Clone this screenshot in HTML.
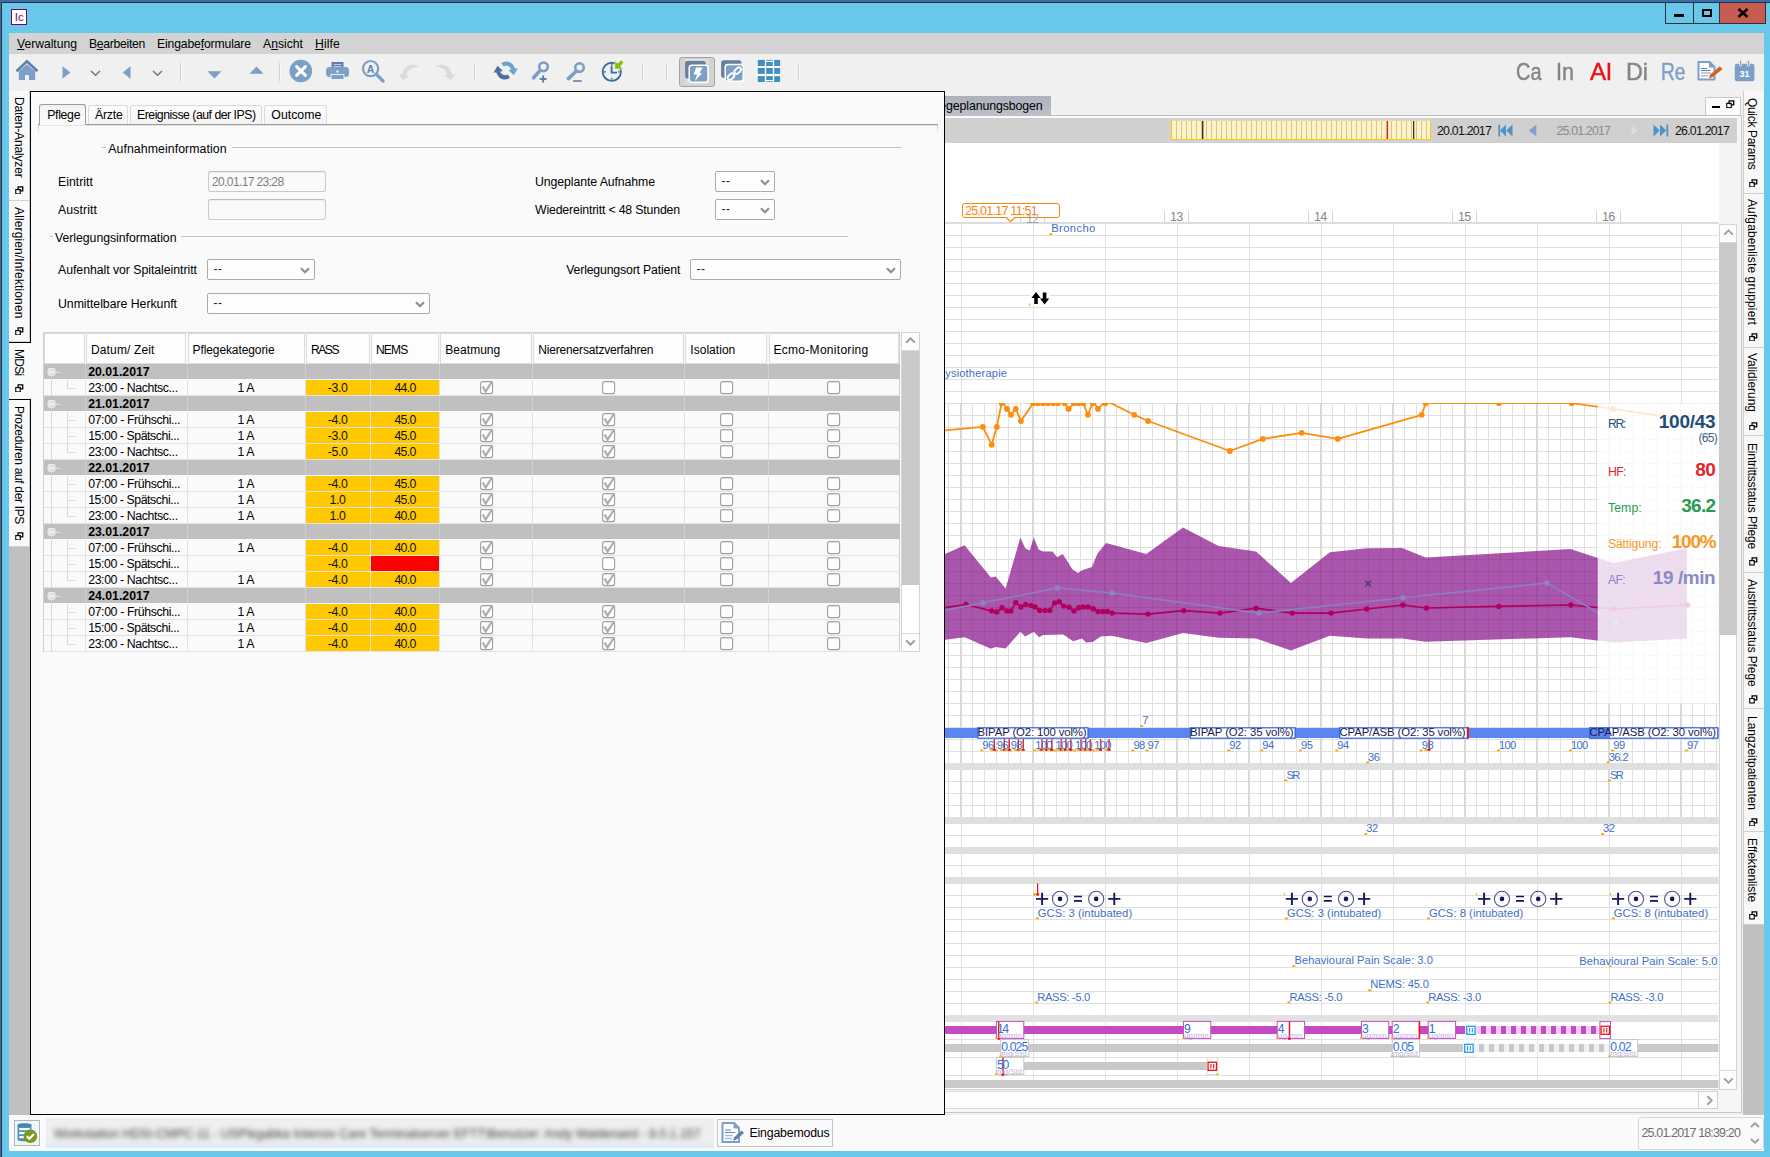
<!DOCTYPE html>
<html lang="de"><head><meta charset="utf-8"><title>Ic</title>
<style>
html,body{margin:0;padding:0}
body{width:1770px;height:1157px;position:relative;overflow:hidden;background:#69C8E9;font-family:"Liberation Sans",sans-serif;font-size:12px;color:#000}
.a{position:absolute;display:block}
.t{position:absolute;white-space:nowrap;height:16px}
</style></head>
<body>
<div class="a" style="left:0px;top:0px;width:1770px;height:2px;background:#3B6EA8;"></div>
<div class="a" style="left:0px;top:0px;width:1px;height:1157px;background:#3B6EA8;"></div>
<div class="a" style="left:1px;top:2px;width:1769px;height:1px;background:#2E3238;"></div>
<div class="a" style="left:1px;top:2px;width:1px;height:1155px;background:#2E3238;"></div>
<div class="a" style="left:11px;top:9px;width:16px;height:16px;background:#fff;border:1.5px solid #7A0064;box-sizing:border-box;"></div>
<div class="t" style="left:14.70px;top:9.00px;font-size:11.5px;color:#7A0064;line-height:16px;letter-spacing:0.028px;">Ic</div>
<div class="a" style="left:1665px;top:3px;width:101px;height:21px;border:1px solid #2E3238;border-top:none;box-sizing:border-box;"></div>
<div class="a" style="left:1693px;top:3px;width:1px;height:20px;background:#2E3238;"></div>
<div class="a" style="left:1719px;top:3px;width:1px;height:20px;background:#2E3238;"></div>
<div class="a" style="left:1720px;top:3px;width:45px;height:20px;background:#C75C52;"></div>
<div class="a" style="left:1674px;top:14px;width:10px;height:3px;background:#000;"></div>
<div class="a" style="left:1702px;top:9px;width:10px;height:8px;border:2px solid #000;box-sizing:border-box;"></div>
<svg class="a" style="left:1737px;top:8px;" width="12" height="10" viewBox="0 0 12 10"><path d="M1.5 1 L10.5 9 M10.5 1 L1.5 9" stroke="#000" stroke-width="2.6" fill="none"/></svg>
<div class="a" style="left:9px;top:33px;width:1755px;height:21px;background:#D3D3D3;"></div>
<div class="t" style="left:17px;top:35.5px;font-size:12.2px;letter-spacing:-0.037px;line-height:16px"><span style="text-decoration:underline">V</span>erwaltung</div>
<div class="t" style="left:89px;top:35.5px;font-size:12.2px;letter-spacing:-0.301px;line-height:16px">B<span style="text-decoration:underline">e</span>arbeiten</div>
<div class="t" style="left:157px;top:35.5px;font-size:12.2px;letter-spacing:-0.144px;line-height:16px">Eingabe<span style="text-decoration:underline">f</span>ormulare</div>
<div class="t" style="left:263px;top:35.5px;font-size:12.2px;letter-spacing:-0.001px;line-height:16px">A<span style="text-decoration:underline">n</span>sicht</div>
<div class="t" style="left:315px;top:35.5px;font-size:12.2px;letter-spacing:0.119px;line-height:16px"><span style="text-decoration:underline">H</span>ilfe</div>
<div class="a" style="left:9px;top:54px;width:1755px;height:37px;background:#F0F0F0;"></div>
<svg class="a" style="left:14px;top:58px;" width="26" height="24" viewBox="0 0 26 24"><path d="M4.8 13.2 L13 6.2 L21.2 13.2 L21.2 22 L15 22 L15 17 L11 17 L11 22 L4.8 22 Z" fill="#7B9FC6"/><path d="M2.5 13.2 L13 3.2 L23.5 13.2" stroke="#5F7FAA" stroke-width="2.6" fill="none" stroke-linejoin="miter"/></svg>
<svg class="a" style="left:62px;top:66px;" width="9" height="13" viewBox="0 0 9 13"><path d="M0.5 0.3 L8.3 6.5 L0.5 12.7 Z" fill="#7B9FC6"/></svg>
<svg class="a" style="left:122px;top:66px;" width="9" height="13" viewBox="0 0 9 13"><path d="M8.5 0.3 L0.7 6.5 L8.5 12.7 Z" fill="#7B9FC6"/></svg>
<svg class="a" style="left:90px;top:70px;" width="11" height="7" viewBox="0 0 11 7"><path d="M1 1 L5.5 5.2 L10 1" stroke="#777" stroke-width="1.5" fill="none"/></svg>
<svg class="a" style="left:152px;top:70px;" width="11" height="7" viewBox="0 0 11 7"><path d="M1 1 L5.5 5.2 L10 1" stroke="#777" stroke-width="1.5" fill="none"/></svg>
<div class="a" style="left:180px;top:60px;width:1px;height:24px;background:linear-gradient(#F0F0F0,#CDCDCD 25%,#CDCDCD 75%,#F0F0F0);"></div>
<div class="a" style="left:181px;top:60px;width:1px;height:24px;background:linear-gradient(#F0F0F0,#FAFAFA 25%,#FAFAFA 75%,#F0F0F0);"></div>
<svg class="a" style="left:207px;top:71px;" width="15" height="8" viewBox="0 0 15 8"><path d="M0.5 0.3 L14.5 0.3 L7.5 7.5 Z" fill="#7B9FC6"/></svg>
<svg class="a" style="left:249px;top:65.5px;" width="15" height="8" viewBox="0 0 15 8"><path d="M0.5 7.7 L14.5 7.7 L7.5 0.5 Z" fill="#7B9FC6"/></svg>
<div class="a" style="left:279px;top:60px;width:1px;height:24px;background:linear-gradient(#F0F0F0,#CDCDCD 25%,#CDCDCD 75%,#F0F0F0);"></div>
<div class="a" style="left:280px;top:60px;width:1px;height:24px;background:linear-gradient(#F0F0F0,#FAFAFA 25%,#FAFAFA 75%,#F0F0F0);"></div>
<svg class="a" style="left:289px;top:59px;" width="24" height="24" viewBox="0 0 24 24"><circle cx="11.8" cy="12" r="11.3" fill="#7B9FC6"/><path d="M7.6 7.6 L16.4 16.4 M16.4 7.6 L7.6 16.4" stroke="#fff" stroke-width="3" stroke-linecap="round"/></svg>
<svg class="a" style="left:325px;top:61px;" width="25" height="20" viewBox="0 0 25 20"><rect x="6.5" y="1" width="12" height="7" fill="#5F7FAA"/><rect x="8.5" y="3" width="8" height="1" fill="#B9CCE0"/><rect x="8.5" y="5" width="8" height="1" fill="#B9CCE0"/><rect x="1" y="6" width="23" height="10" rx="3.5" fill="#7B9FC6"/><rect x="11.5" y="9.5" width="2" height="2" fill="#fff"/><rect x="6" y="13.5" width="13" height="5" fill="#7B9FC6" stroke="#F0F0F0" stroke-width="1"/></svg>
<svg class="a" style="left:361px;top:59px;" width="24" height="24" viewBox="0 0 24 24"><circle cx="9.6" cy="9.6" r="7.6" fill="none" stroke="#7B9FC6" stroke-width="2.2"/><path d="M15.2 15.2 L22 22" stroke="#7B9FC6" stroke-width="3.2" stroke-linecap="round"/><text x="9.6" y="13.6" font-size="10.5" font-weight="bold" text-anchor="middle" fill="#5F7FAA" font-family="Liberation Sans, sans-serif">A</text></svg>
<svg class="a" style="left:397px;top:62px;" width="24" height="20" viewBox="0 0 24 20"><path d="M22.3 4.6 C16 0.6 7 2.4 5 12.6 L1.4 12.2 L6.2 17.9 L12.8 13.4 L9.6 13 C10.6 8 15 4.8 22.3 4.6 Z" fill="#DBDBDB"/></svg>
<svg class="a" style="left:433px;top:62px;" width="24" height="20" viewBox="0 0 24 20"><g transform="translate(24 0) scale(-1 1)"><path d="M22.3 4.6 C16 0.6 7 2.4 5 12.6 L1.4 12.2 L6.2 17.9 L12.8 13.4 L9.6 13 C10.6 8 15 4.8 22.3 4.6 Z" fill="#DBDBDB"/></g></svg>
<div class="a" style="left:474px;top:60px;width:1px;height:24px;background:linear-gradient(#F0F0F0,#CDCDCD 25%,#CDCDCD 75%,#F0F0F0);"></div>
<div class="a" style="left:475px;top:60px;width:1px;height:24px;background:linear-gradient(#F0F0F0,#FAFAFA 25%,#FAFAFA 75%,#F0F0F0);"></div>
<svg class="a" style="left:493px;top:60px;" width="26" height="22" viewBox="0 0 26 22"><path d="M8.4 3.2 C12 0.4 19.5 0.6 22 8.6 L24.8 8.4 L20.8 15.2 L15.4 10 L18.2 9.6 C17 6 13.5 5 10.6 6.4 Z" fill="#6FA3CF"/><path d="M17 17.8 C13.4 20.6 5.9 20.4 3.4 12.4 L0.6 12.6 L4.6 5.8 L10 11 L7.2 11.4 C8.4 15 11.9 16 14.8 14.6 Z" fill="#4E6F9F"/></svg>
<svg class="a" style="left:530.5px;top:60px;" width="20" height="24" viewBox="0 0 20 24"><circle cx="12.5" cy="6.8" r="4.3" fill="none" stroke="#7B9FC6" stroke-width="2.6"/><path d="M9.2 10.4 L2.6 17.8" stroke="#7B9FC6" stroke-width="3.6" stroke-linecap="round"/><path d="M8.7 19 L15.5 19 M12.1 15.6 L12.1 22.4" stroke="#5F7FAA" stroke-width="2"/></svg>
<svg class="a" style="left:566px;top:60px;" width="20" height="24" viewBox="0 0 20 24"><circle cx="13.5" cy="7.6" r="4.3" fill="none" stroke="#7B9FC6" stroke-width="2.6"/><path d="M10.2 11.2 L2.4 18.6" stroke="#7B9FC6" stroke-width="3.6" stroke-linecap="round"/><path d="M7 21 L15.6 21" stroke="#7189B3" stroke-width="1.8"/></svg>
<svg class="a" style="left:600px;top:58px;" width="26" height="26" viewBox="0 0 26 26"><circle cx="11.8" cy="13.8" r="9.1" fill="none" stroke="#34709F" stroke-width="1.9"/><path d="M11.6 8.2 L11.6 14.6 L17 14.6" fill="none" stroke="#34709F" stroke-width="1.9"/><g fill="#34709F"><circle cx="11.8" cy="6.9" r=".9"/><circle cx="11.8" cy="20.7" r=".9"/><circle cx="4.9" cy="13.8" r=".9"/><circle cx="18.7" cy="13.8" r=".9"/></g><path d="M14.8 2.6 L14.8 11 L23.2 11 L20.4 8.2 L23.8 4.6 L21.2 2 L17.6 5.4 Z" fill="#86BE0A" stroke="#F0F0F0" stroke-width="0.6"/></svg>
<div class="a" style="left:642px;top:60px;width:1px;height:24px;background:linear-gradient(#F0F0F0,#CDCDCD 25%,#CDCDCD 75%,#F0F0F0);"></div>
<div class="a" style="left:643px;top:60px;width:1px;height:24px;background:linear-gradient(#F0F0F0,#FAFAFA 25%,#FAFAFA 75%,#F0F0F0);"></div>
<div class="a" style="left:666px;top:60px;width:1px;height:24px;background:linear-gradient(#F0F0F0,#CDCDCD 25%,#CDCDCD 75%,#F0F0F0);"></div>
<div class="a" style="left:667px;top:60px;width:1px;height:24px;background:linear-gradient(#F0F0F0,#FAFAFA 25%,#FAFAFA 75%,#F0F0F0);"></div>
<div class="a" style="left:679px;top:57px;width:36px;height:30px;background:#D3D3D3;border:1.5px solid #A3A3A3;border-radius:3px;box-sizing:border-box;"></div>
<div class="a" style="left:685px;top:59px;width:24px;height:24.5px;background:#DDDDDD;"></div>
<svg class="a" style="left:684px;top:60px;" width="26" height="24" viewBox="0 0 26 24"><rect x="1.1" y="0.9" width="20.6" height="17.8" rx="2.4" fill="#687E9F"/><rect x="5.2" y="5.2" width="18.8" height="17" rx="2.6" fill="#7B9FC6" stroke="#fff" stroke-width="1.5"/><path d="M12 7.5 L18.7 7.5 L15.5 13 L18.1 13 L11 20.9 L13 14.6 L9.6 14.6 Z" fill="#fff"/></svg>
<svg class="a" style="left:720px;top:60px;" width="26" height="24" viewBox="0 0 26 24"><rect x="1.1" y="0.2" width="20.2" height="17.8" rx="2.4" fill="#687E9F"/><rect x="5.2" y="4.4" width="18" height="16.8" rx="2.6" fill="#7B9FC6" stroke="#fff" stroke-width="1.5"/><g fill="none" stroke="#fff" stroke-width="1.8"><rect x="-3.7" y="-2.2" width="7.4" height="4.4" rx="2.2" transform="translate(11 16.6) rotate(-42)"/><rect x="-3.7" y="-2.2" width="7.4" height="4.4" rx="2.2" transform="translate(17.7 10.6) rotate(-42)"/></g></svg>
<svg class="a" style="left:757px;top:59px;" width="24" height="24" viewBox="0 0 24 24"><rect x="0.8" y="0.9" width="22.3" height="22.1" fill="#3F8FC0"/><rect x="0" y="7" width="24" height="2" fill="#fff"/><rect x="0" y="14.9" width="24" height="2.2" fill="#fff"/><rect x="7.9" y="0" width="1.2" height="24" fill="#fff"/><rect x="15.9" y="0" width="1.2" height="24" fill="#fff"/><rect x="8.5" y="2.4" width="8" height="19.2" fill="none" stroke="#fff" stroke-width="1.2"/></svg>
<div class="a" style="left:798px;top:60px;width:1px;height:24px;background:linear-gradient(#F0F0F0,#CDCDCD 25%,#CDCDCD 75%,#F0F0F0);"></div>
<div class="a" style="left:799px;top:60px;width:1px;height:24px;background:linear-gradient(#F0F0F0,#FAFAFA 25%,#FAFAFA 75%,#F0F0F0);"></div>
<div class="t" style="left:1515.50px;top:57.50px;font-size:24.5px;color:#858585;line-height:28px;-webkit-text-stroke:0.45px #858585;transform-origin:0 50%;transform:scaleX(0.8142);">Ca</div>
<div class="t" style="left:1556.00px;top:57.50px;font-size:24.5px;color:#858585;line-height:28px;-webkit-text-stroke:0.45px #858585;transform-origin:0 50%;transform:scaleX(0.8809);">In</div>
<div class="t" style="left:1589.50px;top:57.50px;font-size:24.5px;color:#EE1111;line-height:28px;-webkit-text-stroke:0.45px #EE1111;transform-origin:0 50%;transform:scaleX(0.9869);">Al</div>
<div class="t" style="left:1625.50px;top:57.50px;font-size:24.5px;color:#858585;line-height:28px;-webkit-text-stroke:0.45px #858585;transform-origin:0 50%;transform:scaleX(0.9509);">Di</div>
<div class="t" style="left:1661.00px;top:57.50px;font-size:24.5px;color:#7B9FC6;line-height:28px;-webkit-text-stroke:0.45px #7B9FC6;transform-origin:0 50%;transform:scaleX(0.7823);">Re</div>
<svg class="a" style="left:1696px;top:60px;" width="28" height="22" viewBox="0 0 28 22"><path d="M2.5 2 L13.5 2 L18.5 7 L18.5 19.5 L2.5 19.5 Z" fill="#fff" stroke="#7B9FC6" stroke-width="2" stroke-linejoin="round"/><path d="M13 2 L13 7.5 L18.5 7.5" fill="#7B9FC6"/><g stroke="#5F7FAA" stroke-width="1"><path d="M5 8.5 L11 8.5 M5 10.5 L14.5 10.5"/></g><g stroke="#A9BCD2" stroke-width="1.6"><path d="M5 13 L14.5 13 M5 15.8 L12.5 15.8"/></g><path d="M23.8 6.2 L26.6 9 L16.6 17.2 L12.8 18.4 L14.2 14.6 Z" fill="#D2622D"/></svg>
<svg class="a" style="left:1734px;top:59.5px;" width="22" height="22" viewBox="0 0 22 22"><rect x="0.8" y="3.8" width="19.6" height="17.4" rx="2" fill="#7B9FC6"/><rect x="5.6" y="0.5" width="2" height="5.6" rx="1" fill="#7B9FC6" stroke="#F0F0F0" stroke-width=".8"/><rect x="13.4" y="0.5" width="2" height="5.6" rx="1" fill="#7B9FC6" stroke="#F0F0F0" stroke-width=".8"/><text x="10.6" y="16.8" font-size="9" font-weight="bold" text-anchor="middle" fill="#fff" font-family="Liberation Sans, sans-serif">31</text></svg>
<div class="a" style="left:9px;top:91px;width:1755px;height:1024px;background:#F0F0F0;"></div>
<div class="a" style="left:9px;top:91px;width:21px;height:1024px;background:#C0C0C0;"></div>
<div class="a" style="left:1743px;top:91px;width:21px;height:1024px;background:#C0C0C0;"></div>
<div class="a" style="left:9px;top:91px;width:21px;height:110px;background:#F9F9F9;border-bottom:1px solid #CFCFCF;box-sizing:border-box;border-right:1px solid #CFCFCF;"></div>
<div class="t" style="left:26.70px;top:97.20px;font-size:12px;color:#000;line-height:16px;transform-origin:0 0;transform:rotate(90deg);letter-spacing:-0.158px;">Daten-Analyzer</div>
<svg class="a" style="left:15.2px;top:185.5px" width="8.6" height="8.8" viewBox="0 0 10 10"><path d="M3.6 1 L9 1 L9 5.6 L3.6 5.6 Z M1 4 L6 4 L6 9 L1 9 Z" fill="none" stroke="#000" stroke-width="1.5"/><rect x="1.75" y="4.75" width="3.5" height="3.5" fill="#fff"/></svg>
<div class="a" style="left:9px;top:201px;width:21px;height:141px;background:#F9F9F9;border-bottom:1px solid #CFCFCF;box-sizing:border-box;border-right:1px solid #CFCFCF;"></div>
<div class="t" style="left:26.70px;top:207.00px;font-size:12px;color:#000;line-height:16px;transform-origin:0 0;transform:rotate(90deg);letter-spacing:0.131px;">Allergien/Infektionen</div>
<svg class="a" style="left:15.2px;top:326.5px" width="8.6" height="8.8" viewBox="0 0 10 10"><path d="M3.6 1 L9 1 L9 5.6 L3.6 5.6 Z M1 4 L6 4 L6 9 L1 9 Z" fill="none" stroke="#000" stroke-width="1.5"/><rect x="1.75" y="4.75" width="3.5" height="3.5" fill="#fff"/></svg>
<div class="a" style="left:9px;top:342px;width:21px;height:57px;background:#FAFAFA;border-bottom:1px solid #CFCFCF;box-sizing:border-box;border-top:1px solid #CFCFCF;"></div>
<div class="t" style="left:26.70px;top:349.00px;font-size:12px;color:#000;line-height:16px;transform-origin:0 0;transform:rotate(90deg);letter-spacing:-0.708px;">MDSi</div>
<svg class="a" style="left:15.2px;top:383.5px" width="8.6" height="8.8" viewBox="0 0 10 10"><path d="M3.6 1 L9 1 L9 5.6 L3.6 5.6 Z M1 4 L6 4 L6 9 L1 9 Z" fill="none" stroke="#000" stroke-width="1.5"/><rect x="1.75" y="4.75" width="3.5" height="3.5" fill="#fff"/></svg>
<div class="a" style="left:9px;top:399px;width:21px;height:148px;background:#F9F9F9;border-bottom:1px solid #CFCFCF;box-sizing:border-box;border-right:1px solid #CFCFCF;"></div>
<div class="t" style="left:26.70px;top:406.00px;font-size:12px;color:#000;line-height:16px;transform-origin:0 0;transform:rotate(90deg);letter-spacing:-0.337px;">Prozeduren auf der IPS</div>
<svg class="a" style="left:15.2px;top:531.5px" width="8.6" height="8.8" viewBox="0 0 10 10"><path d="M3.6 1 L9 1 L9 5.6 L3.6 5.6 Z M1 4 L6 4 L6 9 L1 9 Z" fill="none" stroke="#000" stroke-width="1.5"/><rect x="1.75" y="4.75" width="3.5" height="3.5" fill="#fff"/></svg>
<div class="a" style="left:1743px;top:91px;width:21px;height:102.5px;background:#F8F8F8;border-bottom:1px solid #CFCFCF;box-sizing:border-box;border-left:1px solid #CFCFCF;"></div>
<div class="t" style="left:1760.40px;top:98.00px;font-size:12px;color:#000;line-height:16px;transform-origin:0 0;transform:rotate(90deg);letter-spacing:-0.321px;">Quick Params</div>
<svg class="a" style="left:1749px;top:178.5px" width="8.6" height="8.8" viewBox="0 0 10 10"><path d="M3.6 1 L9 1 L9 5.6 L3.6 5.6 Z M1 4 L6 4 L6 9 L1 9 Z" fill="none" stroke="#000" stroke-width="1.5"/><rect x="1.75" y="4.75" width="3.5" height="3.5" fill="#fff"/></svg>
<div class="a" style="left:1743px;top:193.5px;width:21px;height:154px;background:#F8F8F8;border-bottom:1px solid #CFCFCF;box-sizing:border-box;border-left:1px solid #CFCFCF;"></div>
<div class="t" style="left:1760.40px;top:198.50px;font-size:12px;color:#000;line-height:16px;transform-origin:0 0;transform:rotate(90deg);letter-spacing:0.112px;">Aufgabenliste gruppiert</div>
<svg class="a" style="left:1749px;top:332.5px" width="8.6" height="8.8" viewBox="0 0 10 10"><path d="M3.6 1 L9 1 L9 5.6 L3.6 5.6 Z M1 4 L6 4 L6 9 L1 9 Z" fill="none" stroke="#000" stroke-width="1.5"/><rect x="1.75" y="4.75" width="3.5" height="3.5" fill="#fff"/></svg>
<div class="a" style="left:1743px;top:347.5px;width:21px;height:88.5px;background:#F8F8F8;border-bottom:1px solid #CFCFCF;box-sizing:border-box;border-left:1px solid #CFCFCF;"></div>
<div class="t" style="left:1760.40px;top:352.50px;font-size:12px;color:#000;line-height:16px;transform-origin:0 0;transform:rotate(90deg);letter-spacing:-0.014px;">Validierung</div>
<svg class="a" style="left:1749px;top:421.5px" width="8.6" height="8.8" viewBox="0 0 10 10"><path d="M3.6 1 L9 1 L9 5.6 L3.6 5.6 Z M1 4 L6 4 L6 9 L1 9 Z" fill="none" stroke="#000" stroke-width="1.5"/><rect x="1.75" y="4.75" width="3.5" height="3.5" fill="#fff"/></svg>
<div class="a" style="left:1743px;top:436px;width:21px;height:136.5px;background:#F8F8F8;border-bottom:1px solid #CFCFCF;box-sizing:border-box;border-left:1px solid #CFCFCF;"></div>
<div class="t" style="left:1760.40px;top:442.50px;font-size:12px;color:#000;line-height:16px;transform-origin:0 0;transform:rotate(90deg);letter-spacing:-0.154px;">Eintrittsstatus Pflege</div>
<svg class="a" style="left:1749px;top:557px" width="8.6" height="8.8" viewBox="0 0 10 10"><path d="M3.6 1 L9 1 L9 5.6 L3.6 5.6 Z M1 4 L6 4 L6 9 L1 9 Z" fill="none" stroke="#000" stroke-width="1.5"/><rect x="1.75" y="4.75" width="3.5" height="3.5" fill="#fff"/></svg>
<div class="a" style="left:1743px;top:572.5px;width:21px;height:136.5px;background:#F8F8F8;border-bottom:1px solid #CFCFCF;box-sizing:border-box;border-left:1px solid #CFCFCF;"></div>
<div class="t" style="left:1760.40px;top:578.50px;font-size:12px;color:#000;line-height:16px;transform-origin:0 0;transform:rotate(90deg);letter-spacing:-0.122px;">Austrittsstatus Pfege</div>
<svg class="a" style="left:1749px;top:695px" width="8.6" height="8.8" viewBox="0 0 10 10"><path d="M3.6 1 L9 1 L9 5.6 L3.6 5.6 Z M1 4 L6 4 L6 9 L1 9 Z" fill="none" stroke="#000" stroke-width="1.5"/><rect x="1.75" y="4.75" width="3.5" height="3.5" fill="#fff"/></svg>
<div class="a" style="left:1743px;top:709px;width:21px;height:122.5px;background:#F8F8F8;border-bottom:1px solid #CFCFCF;box-sizing:border-box;border-left:1px solid #CFCFCF;"></div>
<div class="t" style="left:1760.40px;top:715.50px;font-size:12px;color:#000;line-height:16px;transform-origin:0 0;transform:rotate(90deg);letter-spacing:-0.044px;">Langzeitpatienten</div>
<svg class="a" style="left:1749px;top:817.5px" width="8.6" height="8.8" viewBox="0 0 10 10"><path d="M3.6 1 L9 1 L9 5.6 L3.6 5.6 Z M1 4 L6 4 L6 9 L1 9 Z" fill="none" stroke="#000" stroke-width="1.5"/><rect x="1.75" y="4.75" width="3.5" height="3.5" fill="#fff"/></svg>
<div class="a" style="left:1743px;top:831.5px;width:21px;height:93.5px;background:#F8F8F8;border-bottom:1px solid #CFCFCF;box-sizing:border-box;border-left:1px solid #CFCFCF;"></div>
<div class="t" style="left:1760.40px;top:838.00px;font-size:12px;color:#000;line-height:16px;transform-origin:0 0;transform:rotate(90deg);letter-spacing:-0.089px;">Effektenliste</div>
<svg class="a" style="left:1749px;top:911px" width="8.6" height="8.8" viewBox="0 0 10 10"><path d="M3.6 1 L9 1 L9 5.6 L3.6 5.6 Z M1 4 L6 4 L6 9 L1 9 Z" fill="none" stroke="#000" stroke-width="1.5"/><rect x="1.75" y="4.75" width="3.5" height="3.5" fill="#fff"/></svg>
<div class="a" style="left:945px;top:95.5px;width:105.5px;height:19.5px;background:linear-gradient(#AEB0BD,#BEC0CB);"></div>
<div class="t" style="left:925.14px;top:97.60px;font-size:12.4px;color:#000;line-height:16px;letter-spacing:-0.127px;">Pflegeplanungsbogen</div>
<div class="a" style="left:945px;top:115px;width:796px;height:1px;background:#BDBDBD;"></div>
<div class="a" style="left:945px;top:116px;width:796px;height:2px;background:#FCFCFC;"></div>
<div class="a" style="left:945px;top:118px;width:792px;height:24.5px;background:#D0D0D0;"></div>
<div class="a" style="left:1737px;top:116px;width:4px;height:997px;background:#F4F4F4;"></div>
<div class="a" style="left:1740.5px;top:115px;width:1px;height:998px;background:#C9C9C9;"></div>
<div class="a" style="left:945px;top:1112px;width:796px;height:1px;background:#C9C9C9;"></div>
<div class="a" style="left:1705px;top:96.5px;width:36px;height:18.5px;background:#FBFBFB;border:1px solid #C9C9C9;border-bottom:none;box-sizing:border-box;"></div>
<div class="a" style="left:1712px;top:105.5px;width:8px;height:2px;background:#000;"></div>
<svg class="a" style="left:1726px;top:99.5px;" width="8.6" height="8.6" viewBox="0 0 10 10"><path d="M3.6 1 L9 1 L9 5.6 L3.6 5.6 Z M1 4 L6 4 L6 9 L1 9 Z" fill="none" stroke="#000" stroke-width="1.5"/><rect x="1.75" y="4.75" width="3.5" height="3.5" fill="#fff"/></svg>
<div class="a" style="left:1169px;top:119px;width:264px;height:23px;background:#D1D4DE;filter:blur(1px);"></div>
<div class="a" style="left:1171px;top:120px;width:260px;height:20px;background:#FFF2C6;border:1px solid #FDC80A;border-top-color:#EAD9A0;box-sizing:border-box;overflow:hidden;"><svg class="a" style="left:-1px;top:-1px" width="260" height="20"><rect x="5" y="1" width="1" height="18" fill="#D3C590"/><rect x="10" y="1" width="1" height="18" fill="#D3C590"/><rect x="15" y="1" width="1" height="18" fill="#D3C590"/><rect x="20" y="1" width="1" height="18" fill="#D3C590"/><rect x="25" y="1" width="1" height="18" fill="#D3C590"/><rect x="30" y="1" width="1" height="18" fill="#D3C590"/><rect x="35" y="1" width="1" height="18" fill="#D3C590"/><rect x="40" y="1" width="1" height="18" fill="#D3C590"/><rect x="45" y="1" width="1" height="18" fill="#D3C590"/><rect x="50" y="1" width="1" height="18" fill="#D3C590"/><rect x="55" y="1" width="1" height="18" fill="#D3C590"/><rect x="60" y="1" width="1" height="18" fill="#D3C590"/><rect x="65" y="1" width="1" height="18" fill="#D3C590"/><rect x="70" y="1" width="1" height="18" fill="#D3C590"/><rect x="75" y="1" width="1" height="18" fill="#D3C590"/><rect x="80" y="1" width="1" height="18" fill="#D3C590"/><rect x="85" y="1" width="1" height="18" fill="#D3C590"/><rect x="90" y="1" width="1" height="18" fill="#D3C590"/><rect x="95" y="1" width="1" height="18" fill="#D3C590"/><rect x="100" y="1" width="1" height="18" fill="#D3C590"/><rect x="105" y="1" width="1" height="18" fill="#D3C590"/><rect x="110" y="1" width="1" height="18" fill="#D3C590"/><rect x="115" y="1" width="1" height="18" fill="#D3C590"/><rect x="120" y="1" width="1" height="18" fill="#D3C590"/><rect x="125" y="1" width="1" height="18" fill="#D3C590"/><rect x="130" y="1" width="1" height="18" fill="#D3C590"/><rect x="135" y="1" width="1" height="18" fill="#D3C590"/><rect x="140" y="1" width="1" height="18" fill="#D3C590"/><rect x="145" y="1" width="1" height="18" fill="#D3C590"/><rect x="150" y="1" width="1" height="18" fill="#D3C590"/><rect x="155" y="1" width="1" height="18" fill="#D3C590"/><rect x="160" y="1" width="1" height="18" fill="#D3C590"/><rect x="165" y="1" width="1" height="18" fill="#D3C590"/><rect x="170" y="1" width="1" height="18" fill="#D3C590"/><rect x="175" y="1" width="1" height="18" fill="#D3C590"/><rect x="180" y="1" width="1" height="18" fill="#D3C590"/><rect x="185" y="1" width="1" height="18" fill="#D3C590"/><rect x="190" y="1" width="1" height="18" fill="#D3C590"/><rect x="195" y="1" width="1" height="18" fill="#D3C590"/><rect x="200" y="1" width="1" height="18" fill="#D3C590"/><rect x="205" y="1" width="1" height="18" fill="#D3C590"/><rect x="210" y="1" width="1" height="18" fill="#D3C590"/><rect x="215" y="1" width="1" height="18" fill="#D3C590"/><rect x="220" y="1" width="1" height="18" fill="#D3C590"/><rect x="225" y="1" width="1" height="18" fill="#D3C590"/><rect x="230" y="1" width="1" height="18" fill="#D3C590"/><rect x="235" y="1" width="1" height="18" fill="#D3C590"/><rect x="240" y="1" width="1" height="18" fill="#D3C590"/><rect x="245" y="1" width="1" height="18" fill="#D3C590"/><rect x="250" y="1" width="1" height="18" fill="#D3C590"/><rect x="255" y="1" width="1" height="18" fill="#D3C590"/><rect x="31" y="0" width="1.4" height="20" fill="#333"/><rect x="215.8" y="0" width="1.3" height="20" fill="#E02020"/><rect x="242" y="0" width="1.3" height="20" fill="#333"/></svg></div>
<div class="t" style="left:1437.00px;top:122.60px;font-size:12.3px;color:#111;line-height:16px;letter-spacing:-0.756px;">20.01.2017</div>
<div class="t" style="left:1556.50px;top:122.60px;font-size:12.3px;color:#8A8A8A;line-height:16px;letter-spacing:-0.806px;">25.01.2017</div>
<div class="t" style="left:1675.00px;top:122.60px;font-size:12.3px;color:#111;line-height:16px;letter-spacing:-0.756px;">26.01.2017</div>
<svg class="a" style="left:1498px;top:124px;" width="15" height="13" viewBox="0 0 15 13"><rect x="0.3" y="0.5" width="1.8" height="12" fill="#4F94C4"/><path d="M8 0.5 L8 12.5 L2 6.5 Z M14.5 0.5 L14.5 12.5 L8.3 6.5 Z" fill="#4F94C4"/></svg>
<svg class="a" style="left:1528px;top:124px;" width="9" height="13" viewBox="0 0 9 13"><path d="M8.3 0.5 L8.3 12.5 L0.8 6.5 Z" fill="#7FA3C9"/></svg>
<svg class="a" style="left:1631px;top:125px;" width="8" height="11" viewBox="0 0 8 11"><path d="M0.5 0.5 L0.5 10.5 L7 5.5 Z" fill="#DCDCDC"/></svg>
<svg class="a" style="left:1653px;top:124px;" width="16" height="13" viewBox="0 0 16 13"><rect x="13.4" y="0.5" width="1.8" height="12" fill="#4F94C4"/><path d="M7 0.5 L7 12.5 L13.2 6.5 Z M0.5 0.5 L0.5 12.5 L6.7 6.5 Z" fill="#4F94C4"/></svg>
<div class="a" style="left:945px;top:142.5px;width:773.5px;height:947.5px;background:#FFFFFF;"></div>
<svg class="a" style="left:945px;top:91px" width="796" height="1022" viewBox="945 91 796 1022"><rect x="945.0" y="222" width="773.5" height="2" fill="#DCDCDC"/><rect x="945.0" y="235" width="773.5" height="1" fill="#E0E0E0"/><rect x="945.0" y="247" width="773.5" height="1" fill="#E0E0E0"/><rect x="945.0" y="259" width="773.5" height="1" fill="#E0E0E0"/><rect x="945.0" y="271" width="773.5" height="1" fill="#E0E0E0"/><rect x="945.0" y="283" width="773.5" height="1" fill="#E0E0E0"/><rect x="945.0" y="295" width="773.5" height="1" fill="#E0E0E0"/><rect x="945.0" y="307" width="773.5" height="1" fill="#E0E0E0"/><rect x="945.0" y="319" width="773.5" height="1" fill="#E0E0E0"/><rect x="945.0" y="331" width="773.5" height="1" fill="#E0E0E0"/><rect x="945.0" y="343" width="773.5" height="1" fill="#E0E0E0"/><rect x="945.0" y="355" width="773.5" height="1" fill="#E0E0E0"/><rect x="945.0" y="367" width="773.5" height="1" fill="#E0E0E0"/><rect x="945.0" y="379" width="773.5" height="1" fill="#E0E0E0"/><rect x="945.0" y="391" width="773.5" height="1" fill="#E0E0E0"/><rect x="945.0" y="403" width="773.5" height="1" fill="#E0E0E0"/><rect x="945.0" y="415" width="773.5" height="1" fill="#E0E0E0"/><rect x="945.0" y="427" width="773.5" height="1" fill="#E0E0E0"/><rect x="945.0" y="439" width="773.5" height="1" fill="#E0E0E0"/><rect x="945.0" y="451" width="773.5" height="1" fill="#E0E0E0"/><rect x="945.0" y="463" width="773.5" height="1" fill="#E0E0E0"/><rect x="945.0" y="475" width="773.5" height="1" fill="#E0E0E0"/><rect x="945.0" y="487" width="773.5" height="1" fill="#E0E0E0"/><rect x="945.0" y="499" width="773.5" height="1" fill="#E0E0E0"/><rect x="945.0" y="511" width="773.5" height="1" fill="#E0E0E0"/><rect x="945.0" y="523" width="773.5" height="1" fill="#E0E0E0"/><rect x="945.0" y="535" width="773.5" height="1" fill="#E0E0E0"/><rect x="945.0" y="547" width="773.5" height="1" fill="#E0E0E0"/><rect x="945.0" y="559" width="773.5" height="1" fill="#E0E0E0"/><rect x="945.0" y="571" width="773.5" height="1" fill="#E0E0E0"/><rect x="945.0" y="583" width="773.5" height="1" fill="#E0E0E0"/><rect x="945.0" y="595" width="773.5" height="1" fill="#E0E0E0"/><rect x="945.0" y="607" width="773.5" height="1" fill="#E0E0E0"/><rect x="945.0" y="619" width="773.5" height="1" fill="#E0E0E0"/><rect x="945.0" y="631" width="773.5" height="1" fill="#E0E0E0"/><rect x="945.0" y="643" width="773.5" height="1" fill="#E0E0E0"/><rect x="945.0" y="655" width="773.5" height="1" fill="#E0E0E0"/><rect x="945.0" y="667" width="773.5" height="1" fill="#E0E0E0"/><rect x="945.0" y="679" width="773.5" height="1" fill="#E0E0E0"/><rect x="945.0" y="691" width="773.5" height="1" fill="#E0E0E0"/><rect x="945.0" y="703" width="773.5" height="1" fill="#E0E0E0"/><rect x="945.0" y="715" width="773.5" height="1" fill="#E0E0E0"/><rect x="945.0" y="727" width="773.5" height="1" fill="#E0E0E0"/><rect x="945.0" y="739" width="773.5" height="1" fill="#E0E0E0"/><rect x="945.0" y="751" width="773.5" height="1" fill="#E0E0E0"/><rect x="945.0" y="781" width="773.5" height="1" fill="#E0E0E0"/><rect x="945.0" y="793" width="773.5" height="1" fill="#E0E0E0"/><rect x="945.0" y="805" width="773.5" height="1" fill="#E0E0E0"/><rect x="945.0" y="835" width="773.5" height="1" fill="#E0E0E0"/><rect x="945.0" y="865" width="773.5" height="1" fill="#E0E0E0"/><rect x="945.0" y="895" width="773.5" height="1" fill="#E0E0E0"/><rect x="945.0" y="907" width="773.5" height="1" fill="#E0E0E0"/><rect x="945.0" y="919" width="773.5" height="1" fill="#E0E0E0"/><rect x="945.0" y="931" width="773.5" height="1" fill="#E0E0E0"/><rect x="945.0" y="943" width="773.5" height="1" fill="#E0E0E0"/><rect x="945.0" y="955" width="773.5" height="1" fill="#E0E0E0"/><rect x="945.0" y="967" width="773.5" height="1" fill="#E0E0E0"/><rect x="945.0" y="979" width="773.5" height="1" fill="#E0E0E0"/><rect x="945.0" y="991" width="773.5" height="1" fill="#E0E0E0"/><rect x="945.0" y="1003" width="773.5" height="1" fill="#E0E0E0"/><rect x="945.0" y="1039" width="773.5" height="1" fill="#E0E0E0"/><rect x="945.0" y="1057" width="773.5" height="1" fill="#E0E0E0"/><rect x="945.0" y="1075" width="773.5" height="1" fill="#E0E0E0"/><rect x="948" y="403" width="1" height="360" fill="#E0E0E0"/><rect x="972" y="403" width="1" height="360" fill="#E0E0E0"/><rect x="984" y="403" width="1" height="360" fill="#E0E0E0"/><rect x="996" y="403" width="1" height="360" fill="#E0E0E0"/><rect x="1008" y="403" width="1" height="360" fill="#E0E0E0"/><rect x="1020" y="403" width="1" height="360" fill="#E0E0E0"/><rect x="1044" y="403" width="1" height="360" fill="#E0E0E0"/><rect x="1056" y="403" width="1" height="360" fill="#E0E0E0"/><rect x="1068" y="403" width="1" height="360" fill="#E0E0E0"/><rect x="1080" y="403" width="1" height="360" fill="#E0E0E0"/><rect x="1092" y="403" width="1" height="360" fill="#E0E0E0"/><rect x="1116" y="403" width="1" height="360" fill="#E0E0E0"/><rect x="1128" y="403" width="1" height="360" fill="#E0E0E0"/><rect x="1140" y="403" width="1" height="360" fill="#E0E0E0"/><rect x="1152" y="403" width="1" height="360" fill="#E0E0E0"/><rect x="1164" y="403" width="1" height="360" fill="#E0E0E0"/><rect x="1188" y="403" width="1" height="360" fill="#E0E0E0"/><rect x="1200" y="403" width="1" height="360" fill="#E0E0E0"/><rect x="1212" y="403" width="1" height="360" fill="#E0E0E0"/><rect x="1224" y="403" width="1" height="360" fill="#E0E0E0"/><rect x="1236" y="403" width="1" height="360" fill="#E0E0E0"/><rect x="1260" y="403" width="1" height="360" fill="#E0E0E0"/><rect x="1272" y="403" width="1" height="360" fill="#E0E0E0"/><rect x="1284" y="403" width="1" height="360" fill="#E0E0E0"/><rect x="1296" y="403" width="1" height="360" fill="#E0E0E0"/><rect x="1308" y="403" width="1" height="360" fill="#E0E0E0"/><rect x="1332" y="403" width="1" height="360" fill="#E0E0E0"/><rect x="1344" y="403" width="1" height="360" fill="#E0E0E0"/><rect x="1356" y="403" width="1" height="360" fill="#E0E0E0"/><rect x="1368" y="403" width="1" height="360" fill="#E0E0E0"/><rect x="1380" y="403" width="1" height="360" fill="#E0E0E0"/><rect x="1404" y="403" width="1" height="360" fill="#E0E0E0"/><rect x="1416" y="403" width="1" height="360" fill="#E0E0E0"/><rect x="1428" y="403" width="1" height="360" fill="#E0E0E0"/><rect x="1440" y="403" width="1" height="360" fill="#E0E0E0"/><rect x="1452" y="403" width="1" height="360" fill="#E0E0E0"/><rect x="1476" y="403" width="1" height="360" fill="#E0E0E0"/><rect x="1488" y="403" width="1" height="360" fill="#E0E0E0"/><rect x="1500" y="403" width="1" height="360" fill="#E0E0E0"/><rect x="1512" y="403" width="1" height="360" fill="#E0E0E0"/><rect x="1524" y="403" width="1" height="360" fill="#E0E0E0"/><rect x="1548" y="403" width="1" height="360" fill="#E0E0E0"/><rect x="1560" y="403" width="1" height="360" fill="#E0E0E0"/><rect x="1572" y="403" width="1" height="360" fill="#E0E0E0"/><rect x="1584" y="403" width="1" height="360" fill="#E0E0E0"/><rect x="1596" y="403" width="1" height="360" fill="#E0E0E0"/><rect x="1620" y="403" width="1" height="360" fill="#E0E0E0"/><rect x="1632" y="403" width="1" height="360" fill="#E0E0E0"/><rect x="1644" y="403" width="1" height="360" fill="#E0E0E0"/><rect x="1656" y="403" width="1" height="360" fill="#E0E0E0"/><rect x="1668" y="403" width="1" height="360" fill="#E0E0E0"/><rect x="1692" y="403" width="1" height="360" fill="#E0E0E0"/><rect x="1704" y="403" width="1" height="360" fill="#E0E0E0"/><rect x="1716" y="403" width="1" height="360" fill="#E0E0E0"/><rect x="948" y="770" width="1" height="47" fill="#E0E0E0"/><rect x="972" y="770" width="1" height="47" fill="#E0E0E0"/><rect x="984" y="770" width="1" height="47" fill="#E0E0E0"/><rect x="996" y="770" width="1" height="47" fill="#E0E0E0"/><rect x="1008" y="770" width="1" height="47" fill="#E0E0E0"/><rect x="1020" y="770" width="1" height="47" fill="#E0E0E0"/><rect x="1044" y="770" width="1" height="47" fill="#E0E0E0"/><rect x="1056" y="770" width="1" height="47" fill="#E0E0E0"/><rect x="1068" y="770" width="1" height="47" fill="#E0E0E0"/><rect x="1080" y="770" width="1" height="47" fill="#E0E0E0"/><rect x="1092" y="770" width="1" height="47" fill="#E0E0E0"/><rect x="1116" y="770" width="1" height="47" fill="#E0E0E0"/><rect x="1128" y="770" width="1" height="47" fill="#E0E0E0"/><rect x="1140" y="770" width="1" height="47" fill="#E0E0E0"/><rect x="1152" y="770" width="1" height="47" fill="#E0E0E0"/><rect x="1164" y="770" width="1" height="47" fill="#E0E0E0"/><rect x="1188" y="770" width="1" height="47" fill="#E0E0E0"/><rect x="1200" y="770" width="1" height="47" fill="#E0E0E0"/><rect x="1212" y="770" width="1" height="47" fill="#E0E0E0"/><rect x="1224" y="770" width="1" height="47" fill="#E0E0E0"/><rect x="1236" y="770" width="1" height="47" fill="#E0E0E0"/><rect x="1260" y="770" width="1" height="47" fill="#E0E0E0"/><rect x="1272" y="770" width="1" height="47" fill="#E0E0E0"/><rect x="1284" y="770" width="1" height="47" fill="#E0E0E0"/><rect x="1296" y="770" width="1" height="47" fill="#E0E0E0"/><rect x="1308" y="770" width="1" height="47" fill="#E0E0E0"/><rect x="1332" y="770" width="1" height="47" fill="#E0E0E0"/><rect x="1344" y="770" width="1" height="47" fill="#E0E0E0"/><rect x="1356" y="770" width="1" height="47" fill="#E0E0E0"/><rect x="1368" y="770" width="1" height="47" fill="#E0E0E0"/><rect x="1380" y="770" width="1" height="47" fill="#E0E0E0"/><rect x="1404" y="770" width="1" height="47" fill="#E0E0E0"/><rect x="1416" y="770" width="1" height="47" fill="#E0E0E0"/><rect x="1428" y="770" width="1" height="47" fill="#E0E0E0"/><rect x="1440" y="770" width="1" height="47" fill="#E0E0E0"/><rect x="1452" y="770" width="1" height="47" fill="#E0E0E0"/><rect x="1476" y="770" width="1" height="47" fill="#E0E0E0"/><rect x="1488" y="770" width="1" height="47" fill="#E0E0E0"/><rect x="1500" y="770" width="1" height="47" fill="#E0E0E0"/><rect x="1512" y="770" width="1" height="47" fill="#E0E0E0"/><rect x="1524" y="770" width="1" height="47" fill="#E0E0E0"/><rect x="1548" y="770" width="1" height="47" fill="#E0E0E0"/><rect x="1560" y="770" width="1" height="47" fill="#E0E0E0"/><rect x="1572" y="770" width="1" height="47" fill="#E0E0E0"/><rect x="1584" y="770" width="1" height="47" fill="#E0E0E0"/><rect x="1596" y="770" width="1" height="47" fill="#E0E0E0"/><rect x="1620" y="770" width="1" height="47" fill="#E0E0E0"/><rect x="1632" y="770" width="1" height="47" fill="#E0E0E0"/><rect x="1644" y="770" width="1" height="47" fill="#E0E0E0"/><rect x="1656" y="770" width="1" height="47" fill="#E0E0E0"/><rect x="1668" y="770" width="1" height="47" fill="#E0E0E0"/><rect x="1692" y="770" width="1" height="47" fill="#E0E0E0"/><rect x="1704" y="770" width="1" height="47" fill="#E0E0E0"/><rect x="1716" y="770" width="1" height="47" fill="#E0E0E0"/><rect x="961" y="224" width="1" height="179" fill="#E0E0E0"/><rect x="960" y="403" width="2" height="360" fill="#DADADA"/><rect x="960" y="770" width="2" height="47" fill="#DADADA"/><rect x="961" y="824" width="1" height="23" fill="#E0E0E0"/><rect x="961" y="854" width="1" height="23" fill="#E0E0E0"/><rect x="961" y="884" width="1" height="131" fill="#E0E0E0"/><rect x="961" y="1022" width="1" height="58" fill="#E0E0E0"/><rect x="1033" y="224" width="1" height="179" fill="#E0E0E0"/><rect x="1032" y="403" width="2" height="360" fill="#DADADA"/><rect x="1032" y="770" width="2" height="47" fill="#DADADA"/><rect x="1033" y="824" width="1" height="23" fill="#E0E0E0"/><rect x="1033" y="854" width="1" height="23" fill="#E0E0E0"/><rect x="1033" y="884" width="1" height="131" fill="#E0E0E0"/><rect x="1033" y="1022" width="1" height="58" fill="#E0E0E0"/><rect x="1105" y="224" width="1" height="179" fill="#E0E0E0"/><rect x="1104" y="403" width="2" height="360" fill="#DADADA"/><rect x="1104" y="770" width="2" height="47" fill="#DADADA"/><rect x="1105" y="824" width="1" height="23" fill="#E0E0E0"/><rect x="1105" y="854" width="1" height="23" fill="#E0E0E0"/><rect x="1105" y="884" width="1" height="131" fill="#E0E0E0"/><rect x="1105" y="1022" width="1" height="58" fill="#E0E0E0"/><rect x="1177" y="224" width="1" height="179" fill="#E0E0E0"/><rect x="1176" y="403" width="2" height="360" fill="#DADADA"/><rect x="1176" y="770" width="2" height="47" fill="#DADADA"/><rect x="1177" y="824" width="1" height="23" fill="#E0E0E0"/><rect x="1177" y="854" width="1" height="23" fill="#E0E0E0"/><rect x="1177" y="884" width="1" height="131" fill="#E0E0E0"/><rect x="1177" y="1022" width="1" height="58" fill="#E0E0E0"/><rect x="1249" y="224" width="1" height="179" fill="#E0E0E0"/><rect x="1248" y="403" width="2" height="360" fill="#DADADA"/><rect x="1248" y="770" width="2" height="47" fill="#DADADA"/><rect x="1249" y="824" width="1" height="23" fill="#E0E0E0"/><rect x="1249" y="854" width="1" height="23" fill="#E0E0E0"/><rect x="1249" y="884" width="1" height="131" fill="#E0E0E0"/><rect x="1249" y="1022" width="1" height="58" fill="#E0E0E0"/><rect x="1321" y="224" width="1" height="179" fill="#E0E0E0"/><rect x="1320" y="403" width="2" height="360" fill="#DADADA"/><rect x="1320" y="770" width="2" height="47" fill="#DADADA"/><rect x="1321" y="824" width="1" height="23" fill="#E0E0E0"/><rect x="1321" y="854" width="1" height="23" fill="#E0E0E0"/><rect x="1321" y="884" width="1" height="131" fill="#E0E0E0"/><rect x="1321" y="1022" width="1" height="58" fill="#E0E0E0"/><rect x="1393" y="224" width="1" height="179" fill="#E0E0E0"/><rect x="1392" y="403" width="2" height="360" fill="#DADADA"/><rect x="1392" y="770" width="2" height="47" fill="#DADADA"/><rect x="1393" y="824" width="1" height="23" fill="#E0E0E0"/><rect x="1393" y="854" width="1" height="23" fill="#E0E0E0"/><rect x="1393" y="884" width="1" height="131" fill="#E0E0E0"/><rect x="1393" y="1022" width="1" height="58" fill="#E0E0E0"/><rect x="1465" y="224" width="1" height="179" fill="#E0E0E0"/><rect x="1464" y="403" width="2" height="360" fill="#DADADA"/><rect x="1464" y="770" width="2" height="47" fill="#DADADA"/><rect x="1465" y="824" width="1" height="23" fill="#E0E0E0"/><rect x="1465" y="854" width="1" height="23" fill="#E0E0E0"/><rect x="1465" y="884" width="1" height="131" fill="#E0E0E0"/><rect x="1465" y="1022" width="1" height="58" fill="#E0E0E0"/><rect x="1537" y="224" width="1" height="179" fill="#E0E0E0"/><rect x="1536" y="403" width="2" height="360" fill="#DADADA"/><rect x="1536" y="770" width="2" height="47" fill="#DADADA"/><rect x="1537" y="824" width="1" height="23" fill="#E0E0E0"/><rect x="1537" y="854" width="1" height="23" fill="#E0E0E0"/><rect x="1537" y="884" width="1" height="131" fill="#E0E0E0"/><rect x="1537" y="1022" width="1" height="58" fill="#E0E0E0"/><rect x="1609" y="224" width="1" height="179" fill="#E0E0E0"/><rect x="1608" y="403" width="2" height="360" fill="#DADADA"/><rect x="1608" y="770" width="2" height="47" fill="#DADADA"/><rect x="1609" y="824" width="1" height="23" fill="#E0E0E0"/><rect x="1609" y="854" width="1" height="23" fill="#E0E0E0"/><rect x="1609" y="884" width="1" height="131" fill="#E0E0E0"/><rect x="1609" y="1022" width="1" height="58" fill="#E0E0E0"/><rect x="1681" y="224" width="1" height="179" fill="#E0E0E0"/><rect x="1680" y="403" width="2" height="360" fill="#DADADA"/><rect x="1680" y="770" width="2" height="47" fill="#DADADA"/><rect x="1681" y="824" width="1" height="23" fill="#E0E0E0"/><rect x="1681" y="854" width="1" height="23" fill="#E0E0E0"/><rect x="1681" y="884" width="1" height="131" fill="#E0E0E0"/><rect x="1681" y="1022" width="1" height="58" fill="#E0E0E0"/><rect x="945" y="763" width="773.5" height="7" fill="#DFDFDF"/><rect x="945" y="817" width="773.5" height="7" fill="#DFDFDF"/><rect x="945" y="847" width="773.5" height="7" fill="#DFDFDF"/><rect x="945" y="877" width="773.5" height="7" fill="#DFDFDF"/><rect x="945" y="1015" width="773.5" height="7" fill="#E1E1E1"/><rect x="945" y="1080" width="773.5" height="8" fill="#C9C9C9"/><rect x="945.0" y="1089" width="773.5" height="1.5" fill="#CFCFCF"/><rect x="1020" y="211" width="1" height="11" fill="#D6D6D6"/><rect x="1044" y="211" width="1" height="11" fill="#D6D6D6"/><rect x="1164" y="211" width="1" height="11" fill="#D6D6D6"/><rect x="1188" y="211" width="1" height="11" fill="#D6D6D6"/><rect x="1308" y="211" width="1" height="11" fill="#D6D6D6"/><rect x="1332" y="211" width="1" height="11" fill="#D6D6D6"/><rect x="1452" y="211" width="1" height="11" fill="#D6D6D6"/><rect x="1476" y="211" width="1" height="11" fill="#D6D6D6"/><rect x="1596" y="211" width="1" height="11" fill="#D6D6D6"/><rect x="1620" y="211" width="1" height="11" fill="#D6D6D6"/><polygon points="944.8,554.1 964.6,545.3 990.9,577.4 995.7,576.4 1005.6,588.4 1020.4,537.5 1025.2,548.2 1029.7,550.6 1033.8,537.5 1038.6,549.6 1043.1,551.4 1052.5,551.4 1057.1,557.3 1062.7,554.1 1072.6,569.4 1078.0,572.9 1082.0,570.2 1091.9,567.0 1097.5,553.6 1106.1,542.9 1146.3,554.1 1183.0,527.6 1218.6,546.1 1256.1,551.4 1290.9,583.1 1329.8,552.2 1366.8,548.2 1402.1,548.0 1425.7,557.6 1570.4,549.0 1613.2,563.0 1686.9,548.2 1686.9,638.5 1613.2,642.5 1570.4,637.2 1425.7,641.7 1402.1,638.5 1366.8,638.5 1329.8,635.8 1290.9,650.6 1256.1,638.5 1218.6,637.7 1183.0,633.1 1146.3,643.1 1111.4,635.8 1100.7,636.6 1092.7,642.0 1086.0,642.5 1082.0,638.5 1073.1,641.2 1063.2,634.5 1043.1,635.0 1039.1,637.2 1033.8,631.8 1025.2,636.6 1020.4,631.8 1005.6,648.4 995.7,647.1 990.9,648.7 964.6,637.2 944.8,639.8" fill="#A549A7" fill-opacity="0.93"/><clipPath id="bc"><polygon points="944.8,554.1 964.6,545.3 990.9,577.4 995.7,576.4 1005.6,588.4 1020.4,537.5 1025.2,548.2 1029.7,550.6 1033.8,537.5 1038.6,549.6 1043.1,551.4 1052.5,551.4 1057.1,557.3 1062.7,554.1 1072.6,569.4 1078.0,572.9 1082.0,570.2 1091.9,567.0 1097.5,553.6 1106.1,542.9 1146.3,554.1 1183.0,527.6 1218.6,546.1 1256.1,551.4 1290.9,583.1 1329.8,552.2 1366.8,548.2 1402.1,548.0 1425.7,557.6 1570.4,549.0 1613.2,563.0 1686.9,548.2 1686.9,638.5 1613.2,642.5 1570.4,637.2 1425.7,641.7 1402.1,638.5 1366.8,638.5 1329.8,635.8 1290.9,650.6 1256.1,638.5 1218.6,637.7 1183.0,633.1 1146.3,643.1 1111.4,635.8 1100.7,636.6 1092.7,642.0 1086.0,642.5 1082.0,638.5 1073.1,641.2 1063.2,634.5 1043.1,635.0 1039.1,637.2 1033.8,631.8 1025.2,636.6 1020.4,631.8 1005.6,648.4 995.7,647.1 990.9,648.7 964.6,637.2 944.8,639.8"/></clipPath><g clip-path="url(#bc)" fill="#000" fill-opacity="0.065"><rect x="948" y="520" width="1" height="140"/><rect x="960" y="520" width="2" height="140"/><rect x="972" y="520" width="1" height="140"/><rect x="984" y="520" width="1" height="140"/><rect x="996" y="520" width="1" height="140"/><rect x="1008" y="520" width="1" height="140"/><rect x="1020" y="520" width="1" height="140"/><rect x="1032" y="520" width="2" height="140"/><rect x="1044" y="520" width="1" height="140"/><rect x="1056" y="520" width="1" height="140"/><rect x="1068" y="520" width="1" height="140"/><rect x="1080" y="520" width="1" height="140"/><rect x="1092" y="520" width="1" height="140"/><rect x="1104" y="520" width="2" height="140"/><rect x="1116" y="520" width="1" height="140"/><rect x="1128" y="520" width="1" height="140"/><rect x="1140" y="520" width="1" height="140"/><rect x="1152" y="520" width="1" height="140"/><rect x="1164" y="520" width="1" height="140"/><rect x="1176" y="520" width="2" height="140"/><rect x="1188" y="520" width="1" height="140"/><rect x="1200" y="520" width="1" height="140"/><rect x="1212" y="520" width="1" height="140"/><rect x="1224" y="520" width="1" height="140"/><rect x="1236" y="520" width="1" height="140"/><rect x="1248" y="520" width="2" height="140"/><rect x="1260" y="520" width="1" height="140"/><rect x="1272" y="520" width="1" height="140"/><rect x="1284" y="520" width="1" height="140"/><rect x="1296" y="520" width="1" height="140"/><rect x="1308" y="520" width="1" height="140"/><rect x="1320" y="520" width="2" height="140"/><rect x="1332" y="520" width="1" height="140"/><rect x="1344" y="520" width="1" height="140"/><rect x="1356" y="520" width="1" height="140"/><rect x="1368" y="520" width="1" height="140"/><rect x="1380" y="520" width="1" height="140"/><rect x="1392" y="520" width="2" height="140"/><rect x="1404" y="520" width="1" height="140"/><rect x="1416" y="520" width="1" height="140"/><rect x="1428" y="520" width="1" height="140"/><rect x="1440" y="520" width="1" height="140"/><rect x="1452" y="520" width="1" height="140"/><rect x="1464" y="520" width="2" height="140"/><rect x="1476" y="520" width="1" height="140"/><rect x="1488" y="520" width="1" height="140"/><rect x="1500" y="520" width="1" height="140"/><rect x="1512" y="520" width="1" height="140"/><rect x="1524" y="520" width="1" height="140"/><rect x="1536" y="520" width="2" height="140"/><rect x="1548" y="520" width="1" height="140"/><rect x="1560" y="520" width="1" height="140"/><rect x="1572" y="520" width="1" height="140"/><rect x="1584" y="520" width="1" height="140"/><rect x="1596" y="520" width="1" height="140"/><rect x="1608" y="520" width="2" height="140"/><rect x="1620" y="520" width="1" height="140"/><rect x="1632" y="520" width="1" height="140"/><rect x="1644" y="520" width="1" height="140"/><rect x="1656" y="520" width="1" height="140"/><rect x="1668" y="520" width="1" height="140"/><rect x="1680" y="520" width="2" height="140"/><rect x="1692" y="520" width="1" height="140"/><rect x="945" y="523" width="760" height="1"/><rect x="945" y="535" width="760" height="1"/><rect x="945" y="547" width="760" height="1"/><rect x="945" y="559" width="760" height="1"/><rect x="945" y="571" width="760" height="1"/><rect x="945" y="583" width="760" height="1"/><rect x="945" y="595" width="760" height="1"/><rect x="945" y="607" width="760" height="1"/><rect x="945" y="619" width="760" height="1"/><rect x="945" y="631" width="760" height="1"/><rect x="945" y="643" width="760" height="1"/><rect x="945" y="655" width="760" height="1"/></g><polyline points="944.8,607.7 966.0,604.5 991.7,610.9 996.8,612.0 1002.1,607.7 1007.0,610.9 1011.0,610.9 1015.8,602.6 1020.9,606.9 1025.7,604.5 1031.1,605.6 1035.1,606.9 1039.7,610.4 1045.0,610.4 1049.8,610.4 1054.7,602.9 1059.2,601.8 1063.8,606.1 1069.1,607.2 1073.9,610.9 1078.8,607.7 1083.3,606.9 1088.1,606.9 1093.2,608.8 1098.0,611.5 1102.9,611.5 1107.4,611.5 1112.2,613.1 1148.1,614.1 1183.8,610.6 1219.9,613.1 1256.1,608.2 1292.3,613.1 1331.1,613.1 1366.8,609.0 1403.0,605.0 1426.5,608.0 1498.9,606.4 1570.9,605.0 1613.2,609.0 1687.7,605.0" fill="none" stroke="#B0005C" stroke-width="1.7"/><circle cx="966" cy="604.5" r="2.7" fill="#B0005C"/><circle cx="991.7" cy="610.9" r="2.7" fill="#B0005C"/><circle cx="996.8" cy="612" r="2.7" fill="#B0005C"/><circle cx="1002.1" cy="607.7" r="2.7" fill="#B0005C"/><circle cx="1007" cy="610.9" r="2.7" fill="#B0005C"/><circle cx="1011" cy="610.9" r="2.7" fill="#B0005C"/><circle cx="1015.8" cy="602.6" r="2.7" fill="#B0005C"/><circle cx="1020.9" cy="606.9" r="2.7" fill="#B0005C"/><circle cx="1025.7" cy="604.5" r="2.7" fill="#B0005C"/><circle cx="1031.1" cy="605.6" r="2.7" fill="#B0005C"/><circle cx="1035.1" cy="606.9" r="2.7" fill="#B0005C"/><circle cx="1039.7" cy="610.4" r="2.7" fill="#B0005C"/><circle cx="1045" cy="610.4" r="2.7" fill="#B0005C"/><circle cx="1049.8" cy="610.4" r="2.7" fill="#B0005C"/><circle cx="1054.7" cy="602.9" r="2.7" fill="#B0005C"/><circle cx="1059.2" cy="601.8" r="2.7" fill="#B0005C"/><circle cx="1063.8" cy="606.1" r="2.7" fill="#B0005C"/><circle cx="1069.1" cy="607.2" r="2.7" fill="#B0005C"/><circle cx="1073.9" cy="610.9" r="2.7" fill="#B0005C"/><circle cx="1078.8" cy="607.7" r="2.7" fill="#B0005C"/><circle cx="1083.3" cy="606.9" r="2.7" fill="#B0005C"/><circle cx="1088.1" cy="606.9" r="2.7" fill="#B0005C"/><circle cx="1093.2" cy="608.8" r="2.7" fill="#B0005C"/><circle cx="1098" cy="611.5" r="2.7" fill="#B0005C"/><circle cx="1102.9" cy="611.5" r="2.7" fill="#B0005C"/><circle cx="1107.4" cy="611.5" r="2.7" fill="#B0005C"/><circle cx="1112.2" cy="613.1" r="2.7" fill="#B0005C"/><circle cx="1148.1" cy="614.1" r="2.7" fill="#B0005C"/><circle cx="1183.8" cy="610.6" r="2.7" fill="#B0005C"/><circle cx="1219.9" cy="613.1" r="2.7" fill="#B0005C"/><circle cx="1256.1" cy="608.2" r="2.7" fill="#B0005C"/><circle cx="1292.3" cy="613.1" r="2.7" fill="#B0005C"/><circle cx="1331.1" cy="613.1" r="2.7" fill="#B0005C"/><circle cx="1366.8" cy="609" r="2.7" fill="#B0005C"/><circle cx="1403" cy="605" r="2.7" fill="#B0005C"/><circle cx="1426.5" cy="608" r="2.7" fill="#B0005C"/><circle cx="1498.9" cy="606.4" r="2.7" fill="#B0005C"/><circle cx="1570.9" cy="605" r="2.7" fill="#B0005C"/><circle cx="1613.2" cy="609" r="2.7" fill="#B0005C"/><circle cx="1687.7" cy="605" r="2.7" fill="#B0005C"/><polyline points="944.8,610.4 982.9,602.9 1057.1,587.9 1112.2,593.0 1258.8,613.1 1403.0,597.8 1546.8,583.0 1615.9,623.0" fill="none" stroke="#8B7FBF" stroke-width="1.6"/><circle cx="982.9" cy="602.9" r="2.7" fill="#8B86C2"/><circle cx="1057.1" cy="587.9" r="2.7" fill="#8B86C2"/><circle cx="1112.2" cy="593" r="2.7" fill="#8B86C2"/><circle cx="1258.8" cy="613.1" r="2.7" fill="#8B86C2"/><circle cx="1403" cy="597.8" r="2.7" fill="#8B86C2"/><circle cx="1546.8" cy="583" r="2.7" fill="#8B86C2"/><circle cx="1615.9" cy="623" r="2.7" fill="#8B86C2"/><path d="M1365.3 580.8 L1370.9 586.4 M1370.9 580.8 L1365.3 586.4" stroke="#4A3A5A" stroke-width="1.3"/><clipPath id="oc"><rect x="945" y="403" width="780" height="100"/></clipPath><g clip-path="url(#oc)"><polyline points="944.8,430.4 982.9,426.9 991.7,444.8 996.8,426.9 1001.6,403.2 1003.5,403.2 1007.0,408.9 1011.0,414.8 1015.8,408.9 1020.9,421.0 1033.2,403.2 1064.6,403.2 1068.6,408.9 1073.9,403.2 1083.3,403.2 1087.9,414.8 1092.7,403.2 1094.5,403.2 1098.0,408.9 1103.5,403.2 1111.0,403.2 1134.2,414.8 1148.1,421.0 1229.8,451.0 1262.8,438.9 1301.6,432.8 1337.8,438.9 1421.7,414.8 1425.7,403.2 1571.7,403.2 1613.2,408.9 1661.5,416.2" fill="none" stroke="#FF8C0A" stroke-width="1.8" stroke-linejoin="round"/><circle cx="982.9" cy="426.9" r="2.9" fill="#FF8C0A"/><circle cx="991.7" cy="444.8" r="2.9" fill="#FF8C0A"/><circle cx="996.8" cy="426.9" r="2.9" fill="#FF8C0A"/><circle cx="1001.6" cy="403.2" r="2.9" fill="#FF8C0A"/><circle cx="1007" cy="408.9" r="2.9" fill="#FF8C0A"/><circle cx="1011" cy="414.8" r="2.9" fill="#FF8C0A"/><circle cx="1015.8" cy="408.9" r="2.9" fill="#FF8C0A"/><circle cx="1020.9" cy="421" r="2.9" fill="#FF8C0A"/><circle cx="1033.2" cy="403.2" r="2.9" fill="#FF8C0A"/><circle cx="1038" cy="403.2" r="2.9" fill="#FF8C0A"/><circle cx="1043" cy="403.2" r="2.9" fill="#FF8C0A"/><circle cx="1048" cy="403.2" r="2.9" fill="#FF8C0A"/><circle cx="1053" cy="403.2" r="2.9" fill="#FF8C0A"/><circle cx="1058" cy="403.2" r="2.9" fill="#FF8C0A"/><circle cx="1064.6" cy="403.2" r="2.9" fill="#FF8C0A"/><circle cx="1068.6" cy="408.9" r="2.9" fill="#FF8C0A"/><circle cx="1073.9" cy="403.2" r="2.9" fill="#FF8C0A"/><circle cx="1078.6" cy="403.2" r="2.9" fill="#FF8C0A"/><circle cx="1083.3" cy="403.2" r="2.9" fill="#FF8C0A"/><circle cx="1087.9" cy="414.8" r="2.9" fill="#FF8C0A"/><circle cx="1092.7" cy="403.2" r="2.9" fill="#FF8C0A"/><circle cx="1098" cy="408.9" r="2.9" fill="#FF8C0A"/><circle cx="1105.3" cy="403.2" r="2.9" fill="#FF8C0A"/><circle cx="1134.2" cy="414.8" r="2.9" fill="#FF8C0A"/><circle cx="1148.1" cy="421" r="2.9" fill="#FF8C0A"/><circle cx="1229.8" cy="451" r="2.9" fill="#FF8C0A"/><circle cx="1262.8" cy="438.9" r="2.9" fill="#FF8C0A"/><circle cx="1301.6" cy="432.8" r="2.9" fill="#FF8C0A"/><circle cx="1337.8" cy="438.9" r="2.9" fill="#FF8C0A"/><circle cx="1421.7" cy="414.8" r="2.9" fill="#FF8C0A"/><circle cx="1425.7" cy="403.2" r="2.9" fill="#FF8C0A"/><circle cx="1498.9" cy="403.2" r="2.9" fill="#FF8C0A"/><circle cx="1571.7" cy="403.2" r="2.9" fill="#FF8C0A"/><circle cx="1613.2" cy="408.9" r="2.9" fill="#FF8C0A"/></g><rect x="945" y="728" width="773.5" height="10" fill="#5B85F0"/><rect x="977.8" y="727.8" width="110.2" height="10.4" fill="#FFFFFF" stroke="#2C60E4" stroke-width="1.2"/><rect x="1190.3" y="727.8" width="104.8" height="10.4" fill="#FFFFFF" stroke="#2C60E4" stroke-width="1.2"/><rect x="1339.7" y="727.8" width="127.7" height="10.4" fill="#FFFFFF" stroke="#2C60E4" stroke-width="1.2"/><rect x="1467" y="727" width="1.8" height="11.8" fill="#F01010"/><rect x="1609.2" y="727.8" width="108.6" height="10.4" fill="#FFFFFF" stroke="#2C60E4" stroke-width="1.2"/><rect x="1589.7" y="727.8" width="20" height="10.4" fill="#5B85F0" stroke="#2C60E4" stroke-width="1.2"/><rect x="1608" y="728.5" width="3" height="9" fill="#5B85F0"/><rect x="1610" y="728.5" width="2" height="9" fill="#FFFFFF"/><rect x="1049.2" y="233.2" width="3" height="2" fill="#F5B400"/><rect x="1030" y="290.5" width="20" height="15.5" fill="#fff"/><path d="M1036 292 L1040.6 298 L1037.8 298 L1037.8 304 L1034.2 304 L1034.2 298 L1031.4 298 Z" fill="#000"/><path d="M1044.6 304.6 L1049.2 298.6 L1046.4 298.6 L1046.4 292.4 L1042.8 292.4 L1042.8 298.6 L1040 298.6 Z" fill="#000"/><rect x="1029" y="303.6" width="1.2" height="2.2" fill="#F5B400"/><rect x="1140.2" y="725.0" width="3" height="2" fill="#F5B400"/><rect x="980.3" y="749.4" width="3" height="2" fill="#F5B400"/><rect x="994.7" y="749.4" width="3" height="2" fill="#F5B400"/><rect x="1008.7" y="749.4" width="3" height="2" fill="#F5B400"/><rect x="1033.3" y="749.4" width="3" height="2" fill="#F5B400"/><rect x="1053.6" y="749.4" width="3" height="2" fill="#F5B400"/><rect x="1073.1" y="749.4" width="3" height="2" fill="#F5B400"/><rect x="1092.2" y="749.4" width="3" height="2" fill="#F5B400"/><rect x="993.6" y="739.2" width="1.3" height="11" fill="#F01010"/><rect x="992.4" y="749" width="3.4" height="1.8" fill="#F01010"/><rect x="989.6" y="749.2" width="2.8" height="1.6" fill="#F5B400"/><rect x="1003.7" y="739.2" width="1.3" height="11" fill="#F01010"/><rect x="1002.5" y="749" width="3.4" height="1.8" fill="#F01010"/><rect x="999.7" y="749.2" width="2.8" height="1.6" fill="#F5B400"/><rect x="1008.6" y="739.2" width="1.3" height="11" fill="#F01010"/><rect x="1007.4" y="749" width="3.4" height="1.8" fill="#F01010"/><rect x="1004.6" y="749.2" width="2.8" height="1.6" fill="#F5B400"/><rect x="1017.7" y="739.2" width="1.3" height="11" fill="#F01010"/><rect x="1016.5" y="749" width="3.4" height="1.8" fill="#F01010"/><rect x="1013.7" y="749.2" width="2.8" height="1.6" fill="#F5B400"/><rect x="1022.6" y="739.2" width="1.3" height="11" fill="#F01010"/><rect x="1021.4" y="749" width="3.4" height="1.8" fill="#F01010"/><rect x="1018.6" y="749.2" width="2.8" height="1.6" fill="#F5B400"/><rect x="1041.3" y="739.2" width="1.3" height="11" fill="#F01010"/><rect x="1040.1" y="749" width="3.4" height="1.8" fill="#F01010"/><rect x="1037.3" y="749.2" width="2.8" height="1.6" fill="#F5B400"/><rect x="1046.1" y="739.2" width="1.3" height="11" fill="#F01010"/><rect x="1044.9" y="749" width="3.4" height="1.8" fill="#F01010"/><rect x="1042.1" y="749.2" width="2.8" height="1.6" fill="#F5B400"/><rect x="1051.2" y="739.2" width="1.3" height="11" fill="#F01010"/><rect x="1050.0" y="749" width="3.4" height="1.8" fill="#F01010"/><rect x="1047.2" y="749.2" width="2.8" height="1.6" fill="#F5B400"/><rect x="1060.5" y="739.2" width="1.3" height="11" fill="#F01010"/><rect x="1059.3" y="749" width="3.4" height="1.8" fill="#F01010"/><rect x="1056.5" y="749.2" width="2.8" height="1.6" fill="#F5B400"/><rect x="1065.2" y="739.2" width="1.3" height="11" fill="#F01010"/><rect x="1064.0" y="749" width="3.4" height="1.8" fill="#F01010"/><rect x="1061.2" y="749.2" width="2.8" height="1.6" fill="#F5B400"/><rect x="1070.2" y="739.2" width="1.3" height="11" fill="#F01010"/><rect x="1069.0" y="749" width="3.4" height="1.8" fill="#F01010"/><rect x="1066.2" y="749.2" width="2.8" height="1.6" fill="#F5B400"/><rect x="1080.4" y="739.2" width="1.3" height="11" fill="#F01010"/><rect x="1079.2" y="749" width="3.4" height="1.8" fill="#F01010"/><rect x="1076.4" y="749.2" width="2.8" height="1.6" fill="#F5B400"/><rect x="1085.1" y="739.2" width="1.3" height="11" fill="#F01010"/><rect x="1083.9" y="749" width="3.4" height="1.8" fill="#F01010"/><rect x="1081.1" y="749.2" width="2.8" height="1.6" fill="#F5B400"/><rect x="1089.7" y="739.2" width="1.3" height="11" fill="#F01010"/><rect x="1088.5" y="749" width="3.4" height="1.8" fill="#F01010"/><rect x="1085.7" y="749.2" width="2.8" height="1.6" fill="#F5B400"/><rect x="1099.9" y="739.2" width="1.3" height="11" fill="#F01010"/><rect x="1098.7" y="749" width="3.4" height="1.8" fill="#F01010"/><rect x="1095.9" y="749.2" width="2.8" height="1.6" fill="#F5B400"/><rect x="1108.4" y="739.2" width="1.3" height="11" fill="#F01010"/><rect x="1107.2" y="749" width="3.4" height="1.8" fill="#F01010"/><rect x="1104.4" y="749.2" width="2.8" height="1.6" fill="#F5B400"/><rect x="1131.4" y="749.4" width="3" height="2" fill="#F5B400"/><rect x="1145.6" y="749.4" width="3" height="2" fill="#F5B400"/><rect x="1227.3" y="749.4" width="3" height="2" fill="#F5B400"/><rect x="1260.3" y="749.4" width="3" height="2" fill="#F5B400"/><rect x="1299.1" y="749.4" width="3" height="2" fill="#F5B400"/><rect x="1335.3" y="749.4" width="3" height="2" fill="#F5B400"/><rect x="1419.7" y="749.4" width="3" height="2" fill="#F5B400"/><rect x="1496.9" y="749.4" width="3" height="2" fill="#F5B400"/><rect x="1568.9" y="749.4" width="3" height="2" fill="#F5B400"/><rect x="1611.2" y="749.4" width="3" height="2" fill="#F5B400"/><rect x="1684.9" y="749.4" width="3" height="2" fill="#F5B400"/><rect x="1428.4" y="739.2" width="1.3" height="11" fill="#F01010"/><rect x="1427.2" y="749" width="3.4" height="1.8" fill="#F01010"/><rect x="1424.4" y="749.2" width="2.8" height="1.6" fill="#F5B400"/><rect x="1366.1" y="761.4" width="3" height="2" fill="#F5B400"/><rect x="1606.7" y="761.4" width="3" height="2" fill="#F5B400"/><rect x="1284.4" y="779.4" width="3" height="2" fill="#F5B400"/><rect x="1608.0" y="779.4" width="3" height="2" fill="#F5B400"/><rect x="1364.3" y="833.0" width="3" height="2" fill="#F5B400"/><rect x="1601.1" y="833.0" width="3" height="2" fill="#F5B400"/><g stroke="#15155A" stroke-width="1.9" fill="none"><path d="M1036 898.9 L1048.2 898.9 M1042.1 892.8 L1042.1 905.0"/><path d="M1108.2 898.9 L1120.4 898.9 M1114.3 892.8 L1114.3 905.0"/><path d="M1074 896.5 L1082 896.5 M1074 900.9 L1082 900.9" stroke-width="1.6"/><circle cx="1060" cy="898.9" r="7.6" stroke-width="1.1" stroke="#4F4F9C"/><circle cx="1096.2" cy="898.9" r="7.6" stroke-width="1.1" stroke="#4F4F9C"/></g><circle cx="1060" cy="898.9" r="2.3" fill="#15155A"/><circle cx="1096.2" cy="898.9" r="2.3" fill="#15155A"/><rect x="1034" y="893.1" width="1.2" height="2.4" fill="#F5B400"/><rect x="1037" y="883.4" width="1.2" height="11" fill="#F01010"/><circle cx="1037.6" cy="894.3" r="1.5" fill="#F01010"/><rect x="1033" y="893.5" width="3.4" height="2" fill="#F5B400"/><g stroke="#15155A" stroke-width="1.9" fill="none"><path d="M1285.8 898.9 L1298.0 898.9 M1291.8999999999999 892.8 L1291.8999999999999 905.0"/><path d="M1358.0 898.9 L1370.2 898.9 M1364.1 892.8 L1364.1 905.0"/><path d="M1323.8 896.5 L1331.8 896.5 M1323.8 900.9 L1331.8 900.9" stroke-width="1.6"/><circle cx="1309.8" cy="898.9" r="7.6" stroke-width="1.1" stroke="#4F4F9C"/><circle cx="1346.0" cy="898.9" r="7.6" stroke-width="1.1" stroke="#4F4F9C"/></g><circle cx="1309.8" cy="898.9" r="2.3" fill="#15155A"/><circle cx="1346.0" cy="898.9" r="2.3" fill="#15155A"/><rect x="1283.8" y="893.1" width="1.2" height="2.4" fill="#F5B400"/><g stroke="#15155A" stroke-width="1.9" fill="none"><path d="M1478 898.9 L1490.2 898.9 M1484.1 892.8 L1484.1 905.0"/><path d="M1550.2 898.9 L1562.4 898.9 M1556.3 892.8 L1556.3 905.0"/><path d="M1516 896.5 L1524 896.5 M1516 900.9 L1524 900.9" stroke-width="1.6"/><circle cx="1502" cy="898.9" r="7.6" stroke-width="1.1" stroke="#4F4F9C"/><circle cx="1538.2" cy="898.9" r="7.6" stroke-width="1.1" stroke="#4F4F9C"/></g><circle cx="1502" cy="898.9" r="2.3" fill="#15155A"/><circle cx="1538.2" cy="898.9" r="2.3" fill="#15155A"/><rect x="1476" y="893.1" width="1.2" height="2.4" fill="#F5B400"/><g stroke="#15155A" stroke-width="1.9" fill="none"><path d="M1612 898.9 L1624.2 898.9 M1618.1 892.8 L1618.1 905.0"/><path d="M1684.2 898.9 L1696.4 898.9 M1690.3 892.8 L1690.3 905.0"/><path d="M1650 896.5 L1658 896.5 M1650 900.9 L1658 900.9" stroke-width="1.6"/><circle cx="1636" cy="898.9" r="7.6" stroke-width="1.1" stroke="#4F4F9C"/><circle cx="1672.2" cy="898.9" r="7.6" stroke-width="1.1" stroke="#4F4F9C"/></g><circle cx="1636" cy="898.9" r="2.3" fill="#15155A"/><circle cx="1672.2" cy="898.9" r="2.3" fill="#15155A"/><rect x="1610" y="893.1" width="1.2" height="2.4" fill="#F5B400"/><rect x="1035.8" y="917.4" width="3" height="2" fill="#F5B400"/><rect x="1284.9" y="917.4" width="3" height="2" fill="#F5B400"/><rect x="1426.9" y="917.4" width="3" height="2" fill="#F5B400"/><rect x="1611.8" y="917.4" width="3" height="2" fill="#F5B400"/><rect x="1292.4" y="965.0" width="3" height="2" fill="#F5B400"/><rect x="1609" y="965.4" width="2.6" height="1.6" fill="#F5B400"/><rect x="1368.3" y="989.2" width="3" height="2" fill="#F5B400"/><rect x="1035.2" y="1001.4" width="3" height="2" fill="#F5B400"/><rect x="1287.4" y="1001.4" width="3" height="2" fill="#F5B400"/><rect x="1426.2" y="1001.4" width="3" height="2" fill="#F5B400"/><rect x="1608.4" y="1001.4" width="3" height="2" fill="#F5B400"/><rect x="1368.6" y="989.6" width="2.6" height="1.6" fill="#F5B400"/><rect x="945" y="1026" width="521" height="8" fill="#C54AC5"/><rect x="1476.0" y="1026" width="5.0" height="8" fill="#F1CFF1"/><rect x="1481.0" y="1026" width="5.0" height="8" fill="#C54AC5"/><rect x="1486.0" y="1026" width="5.0" height="8" fill="#F1CFF1"/><rect x="1491.0" y="1026" width="5.0" height="8" fill="#C54AC5"/><rect x="1496.0" y="1026" width="5.0" height="8" fill="#F1CFF1"/><rect x="1501.0" y="1026" width="5.0" height="8" fill="#C54AC5"/><rect x="1506.0" y="1026" width="5.0" height="8" fill="#F1CFF1"/><rect x="1511.0" y="1026" width="5.0" height="8" fill="#C54AC5"/><rect x="1516.0" y="1026" width="5.0" height="8" fill="#F1CFF1"/><rect x="1521.0" y="1026" width="5.0" height="8" fill="#C54AC5"/><rect x="1526.0" y="1026" width="5.0" height="8" fill="#F1CFF1"/><rect x="1531.0" y="1026" width="5.0" height="8" fill="#C54AC5"/><rect x="1536.0" y="1026" width="5.0" height="8" fill="#F1CFF1"/><rect x="1541.0" y="1026" width="5.0" height="8" fill="#C54AC5"/><rect x="1546.0" y="1026" width="5.0" height="8" fill="#F1CFF1"/><rect x="1551.0" y="1026" width="5.0" height="8" fill="#C54AC5"/><rect x="1556.0" y="1026" width="5.0" height="8" fill="#F1CFF1"/><rect x="1561.0" y="1026" width="5.0" height="8" fill="#C54AC5"/><rect x="1566.0" y="1026" width="5.0" height="8" fill="#F1CFF1"/><rect x="1571.0" y="1026" width="5.0" height="8" fill="#C54AC5"/><rect x="1576.0" y="1026" width="5.0" height="8" fill="#F1CFF1"/><rect x="1581.0" y="1026" width="5.0" height="8" fill="#C54AC5"/><rect x="1586.0" y="1026" width="5.0" height="8" fill="#F1CFF1"/><rect x="1591.0" y="1026" width="5.0" height="8" fill="#C54AC5"/><rect x="1596.0" y="1026" width="4.0" height="8" fill="#F1CFF1"/><rect x="945" y="1044" width="519" height="8" fill="#C9C9C9"/><rect x="1637.6" y="1044" width="80.90000000000009" height="8" fill="#C9C9C9"/><rect x="1474.0" y="1044" width="5.0" height="8" fill="#F2F2F2"/><rect x="1479.0" y="1044" width="5.0" height="8" fill="#C9C9C9"/><rect x="1484.0" y="1044" width="5.0" height="8" fill="#F2F2F2"/><rect x="1489.0" y="1044" width="5.0" height="8" fill="#C9C9C9"/><rect x="1494.0" y="1044" width="5.0" height="8" fill="#F2F2F2"/><rect x="1499.0" y="1044" width="5.0" height="8" fill="#C9C9C9"/><rect x="1504.0" y="1044" width="5.0" height="8" fill="#F2F2F2"/><rect x="1509.0" y="1044" width="5.0" height="8" fill="#C9C9C9"/><rect x="1514.0" y="1044" width="5.0" height="8" fill="#F2F2F2"/><rect x="1519.0" y="1044" width="5.0" height="8" fill="#C9C9C9"/><rect x="1524.0" y="1044" width="5.0" height="8" fill="#F2F2F2"/><rect x="1529.0" y="1044" width="5.0" height="8" fill="#C9C9C9"/><rect x="1534.0" y="1044" width="5.0" height="8" fill="#F2F2F2"/><rect x="1539.0" y="1044" width="5.0" height="8" fill="#C9C9C9"/><rect x="1544.0" y="1044" width="5.0" height="8" fill="#F2F2F2"/><rect x="1549.0" y="1044" width="5.0" height="8" fill="#C9C9C9"/><rect x="1554.0" y="1044" width="5.0" height="8" fill="#F2F2F2"/><rect x="1559.0" y="1044" width="5.0" height="8" fill="#C9C9C9"/><rect x="1564.0" y="1044" width="5.0" height="8" fill="#F2F2F2"/><rect x="1569.0" y="1044" width="5.0" height="8" fill="#C9C9C9"/><rect x="1574.0" y="1044" width="5.0" height="8" fill="#F2F2F2"/><rect x="1579.0" y="1044" width="5.0" height="8" fill="#C9C9C9"/><rect x="1584.0" y="1044" width="5.0" height="8" fill="#F2F2F2"/><rect x="1589.0" y="1044" width="5.0" height="8" fill="#C9C9C9"/><rect x="1594.0" y="1044" width="5.0" height="8" fill="#F2F2F2"/><rect x="1599.0" y="1044" width="5.0" height="8" fill="#C9C9C9"/><rect x="1604.0" y="1044" width="5.0" height="8" fill="#F2F2F2"/><rect x="1609.0" y="1044" width="0.7" height="8" fill="#C9C9C9"/><rect x="1023.8" y="1062" width="183.4" height="8" fill="#C9C9C9"/><rect x="996.4" y="1021.4" width="27.4" height="17" fill="#FFFFFF" stroke="#C54AC5" stroke-width="1"/><rect x="995.0" y="1037.2" width="2.6" height="1.6" fill="#F5B400"/><rect x="998.0" y="1021.4" width="1.4" height="17" fill="#F01010"/><circle cx="998.6" cy="1038.4" r="1.5" fill="#F01010"/><rect x="1183.4" y="1021.4" width="27.4" height="17" fill="#FFFFFF" stroke="#C54AC5" stroke-width="1"/><rect x="1182.0" y="1037.2" width="2.6" height="1.6" fill="#F5B400"/><rect x="1277.2" y="1021.4" width="27.4" height="17" fill="#FFFFFF" stroke="#C54AC5" stroke-width="1"/><rect x="1275.8" y="1037.2" width="2.6" height="1.6" fill="#F5B400"/><rect x="1288.8000000000002" y="1021.4" width="1.4" height="17" fill="#F01010"/><circle cx="1289.4" cy="1038.4" r="1.5" fill="#F01010"/><rect x="1361.4" y="1021.4" width="27.4" height="17" fill="#FFFFFF" stroke="#C54AC5" stroke-width="1"/><rect x="1360.0" y="1037.2" width="2.6" height="1.6" fill="#F5B400"/><rect x="1392.2" y="1021.4" width="27.4" height="17" fill="#FFFFFF" stroke="#C54AC5" stroke-width="1"/><rect x="1390.8" y="1037.2" width="2.6" height="1.6" fill="#F5B400"/><rect x="1418.6000000000001" y="1021.4" width="1.6" height="17.4" fill="#F01010"/><rect x="1428.2" y="1021.4" width="27.4" height="17" fill="#FFFFFF" stroke="#C54AC5" stroke-width="1"/><rect x="1426.8" y="1037.2" width="2.6" height="1.6" fill="#F5B400"/><rect x="1000.7" y="1039.6" width="28" height="17" fill="#FFFFFF" stroke="#C6C6C6" stroke-width="1"/><rect x="999.3000000000001" y="1055.3999999999999" width="2.6" height="1.6" fill="#F5B400"/><rect x="1392.2" y="1039.6" width="27.4" height="17" fill="#FFFFFF" stroke="#C6C6C6" stroke-width="1"/><rect x="1390.8" y="1055.3999999999999" width="2.6" height="1.6" fill="#F5B400"/><rect x="1609.7" y="1039.6" width="28" height="17" fill="#FFFFFF" stroke="#C6C6C6" stroke-width="1"/><rect x="1608.3" y="1055.3999999999999" width="2.6" height="1.6" fill="#F5B400"/><rect x="996.4" y="1057.4" width="27.4" height="17" fill="#FFFFFF" stroke="#C6C6C6" stroke-width="1"/><rect x="995.0" y="1073.2" width="2.6" height="1.6" fill="#F5B400"/><rect x="1002.3" y="1057.4" width="1.4" height="17" fill="#F01010"/><circle cx="1002.9" cy="1074.4" r="1.5" fill="#F01010"/><rect x="1465.5" y="1021.5999999999999" width="10.6" height="17" fill="#fff" stroke="#F0F0F0" stroke-width="1"/><rect x="1466.7" y="1026.3" width="8.4" height="8" fill="#fff" stroke="#1E9BF0" stroke-width="1.3"/><path d="M1469.5 1028.0 L1469.5 1032.6 M1472.3 1028.0 L1472.3 1032.6" stroke="#1E9BF0" stroke-width="1.1"/><rect x="1599.9" y="1021.5999999999999" width="10.6" height="17" fill="#fff" stroke="#C54AC5" stroke-width="1"/><rect x="1601.1000000000001" y="1026.3" width="8.4" height="8" fill="#fff" stroke="#F01010" stroke-width="1.3"/><path d="M1603.9 1028.0 L1603.9 1032.6 M1606.7 1028.0 L1606.7 1032.6" stroke="#F01010" stroke-width="1.1"/><rect x="1463.5" y="1039.6" width="10.6" height="17" fill="#fff" stroke="#F0F0F0" stroke-width="1"/><rect x="1464.7" y="1044.3" width="8.4" height="8" fill="#fff" stroke="#1E9BF0" stroke-width="1.3"/><path d="M1467.5 1046.0 L1467.5 1050.6 M1470.3 1046.0 L1470.3 1050.6" stroke="#1E9BF0" stroke-width="1.1"/><rect x="1206.9" y="1057.6" width="10.6" height="17" fill="#fff" stroke="#D8D8D8" stroke-width="1"/><rect x="1208.1000000000001" y="1062.3" width="8.4" height="8" fill="#fff" stroke="#F01010" stroke-width="1.3"/><path d="M1210.9 1064.0 L1210.9 1068.6 M1213.7 1064.0 L1213.7 1068.6" stroke="#F01010" stroke-width="1.1"/><rect x="1216.2" y="1073.6" width="2.6" height="1.6" fill="#F5B400"/><rect x="1597.7" y="403.4" width="120.8" height="300" fill="#FFFFFF" fill-opacity="0.8"/></svg>
<div class="t" style="left:1169.95px;top:209.00px;font-size:12.5px;color:#858585;line-height:16px;letter-spacing:-0.702px;">13</div>
<div class="t" style="left:1313.95px;top:209.00px;font-size:12.5px;color:#858585;line-height:16px;letter-spacing:-0.702px;">14</div>
<div class="t" style="left:1457.95px;top:209.00px;font-size:12.5px;color:#858585;line-height:16px;letter-spacing:-0.702px;">15</div>
<div class="t" style="left:1601.95px;top:209.00px;font-size:12.5px;color:#858585;line-height:16px;letter-spacing:-0.702px;">16</div>
<div class="t" style="left:977.60px;top:725.30px;font-size:11.4px;color:#1B1B4B;line-height:16px;letter-spacing:-0.137px;height:11px;overflow:hidden;line-height:11px;top:727.4px;">BIPAP (O2: 100 vol%)</div>
<div class="t" style="left:1190.10px;top:725.30px;font-size:11.4px;color:#1B1B4B;line-height:16px;letter-spacing:-0.100px;height:11px;overflow:hidden;line-height:11px;top:727.4px;">BIPAP (O2: 35 vol%)</div>
<div class="t" style="left:1339.50px;top:725.30px;font-size:11.4px;color:#1B1B4B;line-height:16px;letter-spacing:-0.138px;height:11px;overflow:hidden;line-height:11px;top:727.4px;">CPAP/ASB (O2: 35 vol%)</div>
<div class="t" style="left:1589.50px;top:725.30px;font-size:11.4px;color:#1B1B4B;line-height:16px;letter-spacing:-0.115px;height:11px;overflow:hidden;line-height:11px;top:727.4px;">CPAP/ASB (O2: 30 vol%)</div>
<div class="t" style="left:1051.20px;top:220.40px;font-size:11.2px;color:#3F6FC6;line-height:16px;letter-spacing:0.398px;">Broncho</div>
<div class="t" style="left:931.23px;top:365.20px;font-size:11.2px;color:#3F6FC6;line-height:16px;letter-spacing:0.134px;">Physiotherapie</div>
<div class="t" style="left:1142.20px;top:712.20px;font-size:11.2px;color:#3F6FC6;line-height:16px;">7</div>
<div class="t" style="left:982.30px;top:736.60px;font-size:11.2px;color:#3F6FC6;line-height:16px;letter-spacing:-0.529px;">96</div>
<div class="t" style="left:996.70px;top:736.60px;font-size:11.2px;color:#3F6FC6;line-height:16px;letter-spacing:-0.529px;">96</div>
<div class="t" style="left:1010.70px;top:736.60px;font-size:11.2px;color:#3F6FC6;line-height:16px;letter-spacing:-0.529px;">98</div>
<div class="t" style="left:1035.30px;top:736.60px;font-size:11.2px;color:#3F6FC6;line-height:16px;letter-spacing:-0.729px;">100</div>
<div class="t" style="left:1055.60px;top:736.60px;font-size:11.2px;color:#3F6FC6;line-height:16px;letter-spacing:-0.729px;">100</div>
<div class="t" style="left:1075.10px;top:736.60px;font-size:11.2px;color:#3F6FC6;line-height:16px;letter-spacing:-0.729px;">100</div>
<div class="t" style="left:1094.20px;top:736.60px;font-size:11.2px;color:#3F6FC6;line-height:16px;letter-spacing:-0.729px;">100</div>
<div class="t" style="left:1133.40px;top:736.60px;font-size:11.2px;color:#3F6FC6;line-height:16px;letter-spacing:-0.529px;">98</div>
<div class="t" style="left:1147.60px;top:736.60px;font-size:11.2px;color:#3F6FC6;line-height:16px;letter-spacing:-0.529px;">97</div>
<div class="t" style="left:1229.30px;top:736.60px;font-size:11.2px;color:#3F6FC6;line-height:16px;letter-spacing:-0.529px;">92</div>
<div class="t" style="left:1262.30px;top:736.60px;font-size:11.2px;color:#3F6FC6;line-height:16px;letter-spacing:-0.529px;">94</div>
<div class="t" style="left:1301.10px;top:736.60px;font-size:11.2px;color:#3F6FC6;line-height:16px;letter-spacing:-0.529px;">95</div>
<div class="t" style="left:1337.30px;top:736.60px;font-size:11.2px;color:#3F6FC6;line-height:16px;letter-spacing:-0.529px;">94</div>
<div class="t" style="left:1421.70px;top:736.60px;font-size:11.2px;color:#3F6FC6;line-height:16px;letter-spacing:-0.529px;">98</div>
<div class="t" style="left:1498.90px;top:736.60px;font-size:11.2px;color:#3F6FC6;line-height:16px;letter-spacing:-0.729px;">100</div>
<div class="t" style="left:1570.90px;top:736.60px;font-size:11.2px;color:#3F6FC6;line-height:16px;letter-spacing:-0.729px;">100</div>
<div class="t" style="left:1613.20px;top:736.60px;font-size:11.2px;color:#3F6FC6;line-height:16px;letter-spacing:-0.529px;">99</div>
<div class="t" style="left:1686.90px;top:736.60px;font-size:11.2px;color:#3F6FC6;line-height:16px;letter-spacing:-0.529px;">97</div>
<div class="t" style="left:1368.10px;top:748.60px;font-size:11.2px;color:#3F6FC6;line-height:16px;letter-spacing:-0.529px;">36</div>
<div class="t" style="left:1608.70px;top:748.60px;font-size:11.2px;color:#3F6FC6;line-height:16px;letter-spacing:-0.575px;">36.2</div>
<div class="t" style="left:1286.40px;top:766.60px;font-size:11.2px;color:#3F6FC6;line-height:16px;letter-spacing:-1.680px;">SR</div>
<div class="t" style="left:1610.00px;top:766.60px;font-size:11.2px;color:#3F6FC6;line-height:16px;letter-spacing:-1.680px;">SR</div>
<div class="t" style="left:1366.30px;top:820.20px;font-size:11.2px;color:#3F6FC6;line-height:16px;letter-spacing:-0.529px;">32</div>
<div class="t" style="left:1603.10px;top:820.20px;font-size:11.2px;color:#3F6FC6;line-height:16px;letter-spacing:-0.529px;">32</div>
<div class="t" style="left:1037.80px;top:904.60px;font-size:11.2px;color:#3F6FC6;line-height:16px;letter-spacing:0.062px;">GCS: 3 (intubated)</div>
<div class="t" style="left:1286.90px;top:904.60px;font-size:11.2px;color:#3F6FC6;line-height:16px;letter-spacing:0.062px;">GCS: 3 (intubated)</div>
<div class="t" style="left:1428.90px;top:904.60px;font-size:11.2px;color:#3F6FC6;line-height:16px;letter-spacing:0.062px;">GCS: 8 (intubated)</div>
<div class="t" style="left:1613.80px;top:904.60px;font-size:11.2px;color:#3F6FC6;line-height:16px;letter-spacing:0.062px;">GCS: 8 (intubated)</div>
<div class="t" style="left:1294.40px;top:952.20px;font-size:11.2px;color:#3F6FC6;line-height:16px;letter-spacing:0.044px;">Behavioural Pain Scale: 3.0</div>
<div class="t" style="left:1579.20px;top:952.80px;font-size:11.2px;color:#3F6FC6;line-height:16px;letter-spacing:0.033px;">Behavioural Pain Scale: 5.0</div>
<div class="t" style="left:1370.30px;top:976.40px;font-size:11.2px;color:#3F6FC6;line-height:16px;letter-spacing:-0.178px;">NEMS: 45.0</div>
<div class="t" style="left:1037.20px;top:988.60px;font-size:11.2px;color:#3F6FC6;line-height:16px;letter-spacing:-0.312px;">RASS: -5.0</div>
<div class="t" style="left:1289.40px;top:988.60px;font-size:11.2px;color:#3F6FC6;line-height:16px;letter-spacing:-0.312px;">RASS: -5.0</div>
<div class="t" style="left:1428.20px;top:988.60px;font-size:11.2px;color:#3F6FC6;line-height:16px;letter-spacing:-0.332px;">RASS: -3.0</div>
<div class="t" style="left:1610.40px;top:988.60px;font-size:11.2px;color:#3F6FC6;line-height:16px;letter-spacing:-0.332px;">RASS: -3.0</div>
<div class="t" style="left:997.00px;top:1020.70px;font-size:12.2px;color:#2F6FD8;line-height:16px;letter-spacing:-1.535px;">14</div>
<div class="t" style="left:996.90px;top:1030.50px;font-size:8px;color:#C3ABE2;line-height:10px;letter-spacing:0.121px;">µg/min</div>
<div class="t" style="left:1184.00px;top:1020.70px;font-size:12.2px;color:#2F6FD8;line-height:16px;">9</div>
<div class="t" style="left:1183.90px;top:1030.50px;font-size:8px;color:#C3ABE2;line-height:10px;letter-spacing:0.121px;">µg/min</div>
<div class="t" style="left:1277.80px;top:1020.70px;font-size:12.2px;color:#2F6FD8;line-height:16px;">4</div>
<div class="t" style="left:1277.70px;top:1030.50px;font-size:8px;color:#C3ABE2;line-height:10px;letter-spacing:0.121px;">µg/min</div>
<div class="t" style="left:1362.00px;top:1020.70px;font-size:12.2px;color:#2F6FD8;line-height:16px;">3</div>
<div class="t" style="left:1361.90px;top:1030.50px;font-size:8px;color:#C3ABE2;line-height:10px;letter-spacing:0.121px;">µg/min</div>
<div class="t" style="left:1392.80px;top:1020.70px;font-size:12.2px;color:#2F6FD8;line-height:16px;">2</div>
<div class="t" style="left:1392.70px;top:1030.50px;font-size:8px;color:#C3ABE2;line-height:10px;letter-spacing:0.121px;">µg/min</div>
<div class="t" style="left:1428.80px;top:1020.70px;font-size:12.2px;color:#2F6FD8;line-height:16px;">1</div>
<div class="t" style="left:1428.70px;top:1030.50px;font-size:8px;color:#C3ABE2;line-height:10px;letter-spacing:0.121px;">µg/min</div>
<div class="t" style="left:1001.30px;top:1038.90px;font-size:12.2px;color:#2F6FD8;line-height:16px;letter-spacing:-0.906px;">0.025</div>
<div class="t" style="left:1001.20px;top:1048.70px;font-size:8px;color:#BFB2DC;line-height:10px;letter-spacing:0.026px;">mg/Std</div>
<div class="t" style="left:1392.80px;top:1038.90px;font-size:12.2px;color:#2F6FD8;line-height:16px;letter-spacing:-0.811px;">0.05</div>
<div class="t" style="left:1392.70px;top:1048.70px;font-size:8px;color:#BFB2DC;line-height:10px;letter-spacing:-0.074px;">mg/Std</div>
<div class="t" style="left:1610.30px;top:1038.90px;font-size:12.2px;color:#2F6FD8;line-height:16px;letter-spacing:-0.811px;">0.02</div>
<div class="t" style="left:1610.20px;top:1048.70px;font-size:8px;color:#BFB2DC;line-height:10px;letter-spacing:0.026px;">mg/Std</div>
<div class="t" style="left:997.00px;top:1056.70px;font-size:12.2px;color:#2F6FD8;line-height:16px;letter-spacing:-1.285px;">50</div>
<div class="t" style="left:996.90px;top:1066.50px;font-size:8px;color:#BFB2DC;line-height:10px;letter-spacing:-0.074px;">mg/Std</div>
<div class="t" style="left:1607.90px;top:415.60px;font-size:12.3px;color:#1F4E79;line-height:16px;letter-spacing:-1.394px;">RR:</div>
<div class="t" style="left:1658.80px;top:410.60px;font-size:19px;color:#1F4E79;line-height:22px;font-weight:bold;letter-spacing:-0.269px;">100/43</div>
<div class="t" style="left:1698.50px;top:429.80px;font-size:12px;color:#44617F;line-height:16px;letter-spacing:-0.710px;">(65)</div>
<div class="t" style="left:1607.90px;top:464.00px;font-size:12.3px;color:#E3262B;line-height:16px;letter-spacing:-0.605px;">HF:</div>
<div class="t" style="left:1695.30px;top:458.80px;font-size:19px;color:#E3262B;line-height:22px;font-weight:bold;letter-spacing:-0.567px;">80</div>
<div class="t" style="left:1607.90px;top:500.00px;font-size:12.3px;color:#2B9B4B;line-height:16px;letter-spacing:0.101px;">Temp:</div>
<div class="t" style="left:1681.30px;top:494.60px;font-size:19px;color:#2B9B4B;line-height:22px;font-weight:bold;letter-spacing:-0.745px;">36.2</div>
<div class="t" style="left:1607.90px;top:536.00px;font-size:12.3px;color:#F59A23;line-height:16px;letter-spacing:-0.189px;">Sättigung:</div>
<div class="t" style="left:1671.80px;top:530.70px;font-size:19px;color:#F59A23;line-height:22px;font-weight:bold;letter-spacing:-1.274px;">100%</div>
<div class="t" style="left:1607.90px;top:571.80px;font-size:12.3px;color:#8A8AC6;line-height:16px;letter-spacing:-0.712px;">AF:</div>
<div class="t" style="left:1652.80px;top:566.50px;font-size:19px;color:#8A8AC6;line-height:22px;font-weight:bold;letter-spacing:-0.424px;">19 /min</div>
<div class="a" style="left:962px;top:203px;width:98px;height:15px;background:#FFFFFF;border:1.6px solid #FB8414;border-radius:3px;box-sizing:border-box;"></div>
<svg class="a" style="left:1005px;top:216.6px;" width="11" height="6" viewBox="0 0 11 6"><path d="M0.8 0 L5.5 4.6 L10.2 0" fill="#fff" stroke="#FB8414" stroke-width="1.3"/></svg>
<div class="t" style="left:965.00px;top:202.60px;font-size:12.6px;color:#FB8414;line-height:16px;letter-spacing:-0.796px;">25.01.17 11:51</div>
<div class="t" style="left:1025.95px;top:209.00px;font-size:12.5px;color:#A2A2A2;line-height:16px;letter-spacing:-0.702px;height:10px;overflow:hidden;top:213.6px;line-height:10px;clip-path:inset(0);">12</div>
<div class="a" style="left:1718.5px;top:142.5px;width:18.5px;height:81.5px;background:#F4F4F4;"></div>
<div class="a" style="left:1718.5px;top:224px;width:18.5px;height:865.5px;background:#FFFFFF;border:1px solid #D4D4D4;box-sizing:border-box;"></div>
<div class="a" style="left:1719px;top:242.5px;width:17.5px;height:392.5px;background:#C9C9C9;"></div>
<div class="a" style="left:1719.5px;top:225px;width:16.5px;height:17.5px;background:#FDFDFD;border-bottom:1px solid #D4D4D4;box-sizing:border-box;"></div>
<div class="a" style="left:1719.5px;top:1070px;width:16.5px;height:18.5px;background:#FDFDFD;border-top:1px solid #D4D4D4;box-sizing:border-box;"></div>
<svg class="a" style="left:1722.5px;top:228.5px;" width="11" height="7" viewBox="0 0 11 7"><path d="M1.2 5.6 L5.5 1.4 L9.8 5.6" stroke="#A0A0A0" stroke-width="2" fill="none"/></svg>
<svg class="a" style="left:1722.5px;top:1076.5px;" width="11" height="7" viewBox="0 0 11 7"><path d="M1.2 1.4 L5.5 5.6 L9.8 1.4" stroke="#A0A0A0" stroke-width="2" fill="none"/></svg>
<div class="a" style="left:945px;top:1090px;width:795.5px;height:22px;background:#F6F6F6;"></div>
<div class="a" style="left:945px;top:1090.5px;width:772.5px;height:18.5px;background:#FDFDFD;border:1px solid #D8D8D8;border-left:none;box-sizing:border-box;"></div>
<div class="a" style="left:1698px;top:1090.5px;width:19.5px;height:18.5px;background:#FDFDFD;border:1px solid #D2D2D2;box-sizing:border-box;"></div>
<svg class="a" style="left:1705.5px;top:1094.5px;" width="7" height="11" viewBox="0 0 7 11"><path d="M1.4 1.2 L5.6 5.5 L1.4 9.8" stroke="#A0A0A0" stroke-width="2" fill="none"/></svg>
<div class="a" style="left:30px;top:91px;width:915px;height:1024px;background:#FAFAFA;border:1px solid #000;box-sizing:border-box;"></div>
<div class="a" style="left:9px;top:342px;width:22px;height:58px;background:#FAFAFA;border-top:1px solid #000;border-bottom:1px solid #000;box-sizing:border-box;"></div>
<div class="t" style="left:26.70px;top:349.00px;font-size:12px;color:#000;line-height:16px;transform-origin:0 0;transform:rotate(90deg);letter-spacing:-0.708px;">MDSi</div>
<svg class="a" style="left:15.2px;top:383.5px" width="8.6" height="8.8" viewBox="0 0 10 10"><path d="M3.6 1 L9 1 L9 5.6 L3.6 5.6 Z M1 4 L6 4 L6 9 L1 9 Z" fill="none" stroke="#000" stroke-width="1.5"/><rect x="1.75" y="4.75" width="3.5" height="3.5" fill="#fff"/></svg>
<div class="a" style="left:38px;top:123.5px;width:900px;height:10px;border-top:1px solid #9C9C9C;border-left:1px solid #C8C8C8;border-right:1px solid #C8C8C8;box-sizing:border-box;-webkit-mask-image:linear-gradient(#000 20%,transparent);mask-image:linear-gradient(#000 20%,transparent);"></div>
<div class="a" style="left:39px;top:124.5px;width:898px;height:1.5px;background:#E4E4E4;"></div>
<div class="a" style="left:39px;top:104px;width:47px;height:21px;background:linear-gradient(#EFEFEF,#FAFAFA 45%);border:1px solid #9C9C9C;border-bottom:none;border-radius:3px 3px 0 0;box-sizing:border-box;"></div>
<div class="t" style="left:47.20px;top:106.60px;font-size:12.3px;color:#000;line-height:16px;letter-spacing:-0.313px;">Pflege</div>
<div class="a" style="left:87.5px;top:104.5px;width:40.5px;height:19px;background:linear-gradient(#FCFCFC,#F4F4F4);border:1px solid #D9D9D9;border-bottom:none;border-radius:3px 3px 0 0;box-sizing:border-box;"></div>
<div class="t" style="left:95.00px;top:106.60px;font-size:12.3px;color:#000;line-height:16px;letter-spacing:-0.242px;">Ärzte</div>
<div class="a" style="left:130px;top:104.5px;width:131.5px;height:19px;background:linear-gradient(#FCFCFC,#F4F4F4);border:1px solid #D9D9D9;border-bottom:none;border-radius:3px 3px 0 0;box-sizing:border-box;"></div>
<div class="t" style="left:137.00px;top:106.60px;font-size:12.3px;color:#000;line-height:16px;letter-spacing:-0.503px;">Ereignisse (auf der IPS)</div>
<div class="a" style="left:263.5px;top:104.5px;width:63.5px;height:19px;background:linear-gradient(#FCFCFC,#F4F4F4);border:1px solid #D9D9D9;border-bottom:none;border-radius:3px 3px 0 0;box-sizing:border-box;"></div>
<div class="t" style="left:271.30px;top:106.60px;font-size:12.3px;color:#000;line-height:16px;letter-spacing:0.014px;">Outcome</div>
<div class="a" style="left:102px;top:147px;width:3.5px;height:1px;background:#C4C4C4;"></div>
<div class="a" style="left:231.5px;top:147px;width:670px;height:1px;background:#C4C4C4;"></div>
<div class="t" style="left:108.20px;top:140.60px;font-size:12.3px;color:#000;line-height:16px;letter-spacing:0.083px;">Aufnahmeinformation</div>
<div class="a" style="left:49.5px;top:236px;width:3px;height:1px;background:#C4C4C4;"></div>
<div class="a" style="left:181px;top:236px;width:667px;height:1px;background:#C4C4C4;"></div>
<div class="t" style="left:55.00px;top:229.60px;font-size:12.3px;color:#000;line-height:16px;letter-spacing:-0.043px;">Verlegungsinformation</div>
<div class="t" style="left:58.00px;top:173.60px;font-size:12.3px;color:#000;line-height:16px;letter-spacing:0.018px;">Eintritt</div>
<div class="t" style="left:58.00px;top:201.60px;font-size:12.3px;color:#000;line-height:16px;letter-spacing:0.090px;">Austritt</div>
<div class="t" style="left:58.00px;top:261.60px;font-size:12.3px;color:#000;line-height:16px;letter-spacing:-0.042px;">Aufenhalt vor Spitaleintritt</div>
<div class="t" style="left:58.00px;top:295.60px;font-size:12.3px;color:#000;line-height:16px;letter-spacing:-0.030px;">Unmittelbare Herkunft</div>
<div class="t" style="left:535.00px;top:173.60px;font-size:12.3px;color:#000;line-height:16px;letter-spacing:-0.091px;">Ungeplante Aufnahme</div>
<div class="t" style="left:535.00px;top:201.60px;font-size:12.3px;color:#000;line-height:16px;letter-spacing:-0.163px;">Wiedereintritt &lt; 48 Stunden</div>
<div class="t" style="left:566.20px;top:261.60px;font-size:12.3px;color:#000;line-height:16px;letter-spacing:-0.172px;">Verlegungsort Patient</div>
<div class="a" style="left:208px;top:171px;width:118px;height:21px;background:#FAFAFA;border:1px solid #CACACA;border-top-color:#BDBDBD;border-radius:3px;box-sizing:border-box;box-shadow:inset 0 1px 1px #EDEDED;"></div>
<div class="t" style="left:212.00px;top:173.50px;font-size:12px;color:#7E7E7E;line-height:16px;letter-spacing:-0.613px;">20.01.17 23:28</div>
<div class="a" style="left:208px;top:199px;width:118px;height:21px;background:#FAFAFA;border:1px solid #CACACA;border-top-color:#BDBDBD;border-radius:3px;box-sizing:border-box;box-shadow:inset 0 1px 1px #EDEDED;"></div>
<div class="a" style="left:207px;top:259px;width:108px;height:21px;background:#FDFDFD;border:1px solid #ABABAB;border-radius:2px;box-sizing:border-box;"></div>
<div class="t" style="left:213.50px;top:261.20px;font-size:12px;color:#222;line-height:16px;letter-spacing:0.503px;">--</div>
<svg class="a" style="left:299.5px;top:266.5px;" width="10" height="7" viewBox="0 0 10 7"><path d="M1 1.2 L5 5.2 L9 1.2" stroke="#8E8E8E" stroke-width="2.1" fill="none"/></svg>
<div class="a" style="left:207px;top:293px;width:223px;height:21px;background:#FDFDFD;border:1px solid #ABABAB;border-radius:2px;box-sizing:border-box;"></div>
<div class="t" style="left:213.50px;top:295.20px;font-size:12px;color:#222;line-height:16px;letter-spacing:0.503px;">--</div>
<svg class="a" style="left:414.5px;top:300.5px;" width="10" height="7" viewBox="0 0 10 7"><path d="M1 1.2 L5 5.2 L9 1.2" stroke="#8E8E8E" stroke-width="2.1" fill="none"/></svg>
<div class="a" style="left:715px;top:171px;width:60px;height:21px;background:#FDFDFD;border:1px solid #ABABAB;border-radius:2px;box-sizing:border-box;"></div>
<div class="t" style="left:721.50px;top:173.20px;font-size:12px;color:#222;line-height:16px;letter-spacing:0.503px;">--</div>
<svg class="a" style="left:759.5px;top:178.5px;" width="10" height="7" viewBox="0 0 10 7"><path d="M1 1.2 L5 5.2 L9 1.2" stroke="#8E8E8E" stroke-width="2.1" fill="none"/></svg>
<div class="a" style="left:715px;top:199px;width:60px;height:21px;background:#FDFDFD;border:1px solid #ABABAB;border-radius:2px;box-sizing:border-box;"></div>
<div class="t" style="left:721.50px;top:201.20px;font-size:12px;color:#222;line-height:16px;letter-spacing:0.503px;">--</div>
<svg class="a" style="left:759.5px;top:206.5px;" width="10" height="7" viewBox="0 0 10 7"><path d="M1 1.2 L5 5.2 L9 1.2" stroke="#8E8E8E" stroke-width="2.1" fill="none"/></svg>
<div class="a" style="left:690px;top:259px;width:211px;height:21px;background:#FDFDFD;border:1px solid #ABABAB;border-radius:2px;box-sizing:border-box;"></div>
<div class="t" style="left:696.50px;top:261.20px;font-size:12px;color:#222;line-height:16px;letter-spacing:0.503px;">--</div>
<svg class="a" style="left:885.5px;top:266.5px;" width="10" height="7" viewBox="0 0 10 7"><path d="M1 1.2 L5 5.2 L9 1.2" stroke="#8E8E8E" stroke-width="2.1" fill="none"/></svg>
<div class="a" style="left:43px;top:332px;width:857px;height:320px;background:#FAFAFA;border:1px solid #D0D0D0;border-bottom:none;box-sizing:border-box;"></div>
<div class="a" style="left:44px;top:333px;width:40.5px;height:30.5px;background:#FDFDFD;border:1px solid #DCDCDC;box-sizing:border-box;"></div>
<div class="a" style="left:86px;top:333px;width:100px;height:30.5px;background:#FDFDFD;border:1px solid #DCDCDC;box-sizing:border-box;"></div>
<div class="t" style="left:91.00px;top:342.30px;font-size:12px;color:#000;line-height:16px;letter-spacing:0.135px;">Datum/ Zeit</div>
<div class="a" style="left:187.5px;top:333px;width:117px;height:30.5px;background:#FDFDFD;border:1px solid #DCDCDC;box-sizing:border-box;"></div>
<div class="t" style="left:192.50px;top:342.30px;font-size:12px;color:#000;line-height:16px;letter-spacing:-0.093px;">Pflegekategorie</div>
<div class="a" style="left:306px;top:333px;width:63.5px;height:30.5px;background:#FDFDFD;border:1px solid #DCDCDC;box-sizing:border-box;"></div>
<div class="t" style="left:311.00px;top:342.30px;font-size:12px;color:#000;line-height:16px;letter-spacing:-1.420px;">RASS</div>
<div class="a" style="left:371px;top:333px;width:67.8px;height:30.5px;background:#FDFDFD;border:1px solid #DCDCDC;box-sizing:border-box;"></div>
<div class="t" style="left:376.00px;top:342.30px;font-size:12px;color:#000;line-height:16px;letter-spacing:-0.793px;">NEMS</div>
<div class="a" style="left:440.3px;top:333px;width:91.5px;height:30.5px;background:#FDFDFD;border:1px solid #DCDCDC;box-sizing:border-box;"></div>
<div class="t" style="left:445.30px;top:342.30px;font-size:12px;color:#000;line-height:16px;letter-spacing:0.037px;">Beatmung</div>
<div class="a" style="left:533.3px;top:333px;width:150.5px;height:30.5px;background:#FDFDFD;border:1px solid #DCDCDC;box-sizing:border-box;"></div>
<div class="t" style="left:538.30px;top:342.30px;font-size:12px;color:#000;line-height:16px;letter-spacing:-0.177px;">Nierenersatzverfahren</div>
<div class="a" style="left:685.3px;top:333px;width:81.7px;height:30.5px;background:#FDFDFD;border:1px solid #DCDCDC;box-sizing:border-box;"></div>
<div class="t" style="left:690.30px;top:342.30px;font-size:12px;color:#000;line-height:16px;letter-spacing:0.034px;">Isolation</div>
<div class="a" style="left:768.5px;top:333px;width:130.5px;height:30.5px;background:#FDFDFD;border:1px solid #DCDCDC;box-sizing:border-box;"></div>
<div class="t" style="left:773.50px;top:342.30px;font-size:12px;color:#000;line-height:16px;letter-spacing:0.287px;">Ecmo-Monitoring</div>
<div class="a" style="left:44px;top:364px;width:855.5px;height:15.3px;background:#C0C0C0;"></div>
<div class="a" style="left:85px;top:364px;width:1.2px;height:15.3px;background:#CECECE;"></div>
<div class="a" style="left:186.5px;top:364px;width:1.2px;height:15.3px;background:#CECECE;"></div>
<div class="a" style="left:305px;top:364px;width:1.2px;height:15.3px;background:#CECECE;"></div>
<div class="a" style="left:370px;top:364px;width:1.2px;height:15.3px;background:#CECECE;"></div>
<div class="a" style="left:439.3px;top:364px;width:1.2px;height:15.3px;background:#CECECE;"></div>
<div class="a" style="left:532.3px;top:364px;width:1.2px;height:15.3px;background:#CECECE;"></div>
<div class="a" style="left:684.3px;top:364px;width:1.2px;height:15.3px;background:#CECECE;"></div>
<div class="a" style="left:767.5px;top:364px;width:1.2px;height:15.3px;background:#CECECE;"></div>
<div class="t" style="left:88.20px;top:363.60px;font-size:12.3px;color:#000;line-height:16px;font-weight:bold;letter-spacing:-0.006px;">20.01.2017</div>
<svg class="a" style="left:45px;top:365px;" width="20" height="15" viewBox="0 0 20 15"><path d="M11.2 7.3 L14.8 7.3" stroke="#E6E6E6" stroke-width="1"/><rect x="3.2" y="3.6" width="6.8" height="6.6" rx="1.6" fill="#DCDCDC" stroke="#F0F0F0" stroke-width="1.1"/><path d="M4.4 7 L8.8 7" stroke="#fff" stroke-width="1.3"/><path d="M6.5 10.8 L6.5 15" stroke="#D6D6D6" stroke-width="1"/></svg>
<div class="a" style="left:44px;top:395.3px;width:855.5px;height:1px;background:#E2E2E2;"></div>
<div class="a" style="left:85px;top:379.5px;width:1px;height:16px;background:#E2E2E2;"></div>
<div class="a" style="left:186.5px;top:379.5px;width:1px;height:16px;background:#E2E2E2;"></div>
<div class="a" style="left:305px;top:379.5px;width:1px;height:16px;background:#E2E2E2;"></div>
<div class="a" style="left:370px;top:379.5px;width:1px;height:16px;background:#E2E2E2;"></div>
<div class="a" style="left:439.3px;top:379.5px;width:1px;height:16px;background:#E2E2E2;"></div>
<div class="a" style="left:532.3px;top:379.5px;width:1px;height:16px;background:#E2E2E2;"></div>
<div class="a" style="left:684.3px;top:379.5px;width:1px;height:16px;background:#E2E2E2;"></div>
<div class="a" style="left:767.5px;top:379.5px;width:1px;height:16px;background:#E2E2E2;"></div>
<div class="a" style="left:51px;top:379.5px;width:1px;height:16.5px;background:#DADADA;"></div>
<div class="a" style="left:67px;top:379.5px;width:1px;height:8.5px;background:#DADADA;"></div>
<div class="a" style="left:67px;top:387.5px;width:9px;height:1px;background:#DADADA;"></div>
<div class="t" style="left:88.20px;top:379.60px;font-size:12.3px;color:#000;line-height:16px;letter-spacing:-0.383px;">23:00 - Nachtsc...</div>
<div class="t" style="left:237.55px;top:379.60px;font-size:12.3px;color:#000;line-height:16px;letter-spacing:-0.428px;">1 A</div>
<div class="a" style="left:306px;top:380px;width:64px;height:15.4px;background:#FFC800;"></div>
<div class="t" style="left:327.85px;top:379.60px;font-size:12.3px;color:#111;line-height:16px;letter-spacing:-0.424px;">-3.0</div>
<div class="a" style="left:371px;top:380px;width:68px;height:15.4px;background:#FFC800;"></div>
<div class="t" style="left:394.50px;top:379.60px;font-size:12.3px;color:#111;line-height:16px;letter-spacing:-0.735px;">44.0</div>
<svg class="a" style="left:479.7px;top:381.2px;overflow:visible;" width="14" height="14" viewBox="0 0 14 14"><rect x="0.6" y="0.6" width="12" height="12" rx="2" fill="#FDFDFD" stroke="#9E9E9E" stroke-width="1.1"/><path d="M2.6 5.4 L5.6 10.6 L12.2 0.2" fill="none" stroke="#ADADAD" stroke-width="2.1"/></svg>
<svg class="a" style="left:602px;top:381.2px;overflow:visible;" width="14" height="14" viewBox="0 0 14 14"><rect x="0.6" y="0.6" width="12" height="12" rx="2" fill="#FDFDFD" stroke="#9E9E9E" stroke-width="1.1"/></svg>
<svg class="a" style="left:720.2px;top:381.2px;overflow:visible;" width="14" height="14" viewBox="0 0 14 14"><rect x="0.6" y="0.6" width="12" height="12" rx="2" fill="#FDFDFD" stroke="#9E9E9E" stroke-width="1.1"/></svg>
<svg class="a" style="left:827.2px;top:381.2px;overflow:visible;" width="14" height="14" viewBox="0 0 14 14"><rect x="0.6" y="0.6" width="12" height="12" rx="2" fill="#FDFDFD" stroke="#9E9E9E" stroke-width="1.1"/></svg>
<div class="a" style="left:44px;top:396px;width:855.5px;height:15.3px;background:#C0C0C0;"></div>
<div class="a" style="left:85px;top:396px;width:1.2px;height:15.3px;background:#CECECE;"></div>
<div class="a" style="left:186.5px;top:396px;width:1.2px;height:15.3px;background:#CECECE;"></div>
<div class="a" style="left:305px;top:396px;width:1.2px;height:15.3px;background:#CECECE;"></div>
<div class="a" style="left:370px;top:396px;width:1.2px;height:15.3px;background:#CECECE;"></div>
<div class="a" style="left:439.3px;top:396px;width:1.2px;height:15.3px;background:#CECECE;"></div>
<div class="a" style="left:532.3px;top:396px;width:1.2px;height:15.3px;background:#CECECE;"></div>
<div class="a" style="left:684.3px;top:396px;width:1.2px;height:15.3px;background:#CECECE;"></div>
<div class="a" style="left:767.5px;top:396px;width:1.2px;height:15.3px;background:#CECECE;"></div>
<div class="t" style="left:88.20px;top:395.60px;font-size:12.3px;color:#000;line-height:16px;font-weight:bold;letter-spacing:-0.006px;">21.01.2017</div>
<svg class="a" style="left:45px;top:397px;" width="20" height="15" viewBox="0 0 20 15"><path d="M11.2 7.3 L14.8 7.3" stroke="#E6E6E6" stroke-width="1"/><rect x="3.2" y="3.6" width="6.8" height="6.6" rx="1.6" fill="#DCDCDC" stroke="#F0F0F0" stroke-width="1.1"/><path d="M4.4 7 L8.8 7" stroke="#fff" stroke-width="1.3"/><path d="M6.5 10.8 L6.5 15" stroke="#D6D6D6" stroke-width="1"/></svg>
<div class="a" style="left:44px;top:427.3px;width:855.5px;height:1px;background:#E2E2E2;"></div>
<div class="a" style="left:85px;top:411.5px;width:1px;height:16px;background:#E2E2E2;"></div>
<div class="a" style="left:186.5px;top:411.5px;width:1px;height:16px;background:#E2E2E2;"></div>
<div class="a" style="left:305px;top:411.5px;width:1px;height:16px;background:#E2E2E2;"></div>
<div class="a" style="left:370px;top:411.5px;width:1px;height:16px;background:#E2E2E2;"></div>
<div class="a" style="left:439.3px;top:411.5px;width:1px;height:16px;background:#E2E2E2;"></div>
<div class="a" style="left:532.3px;top:411.5px;width:1px;height:16px;background:#E2E2E2;"></div>
<div class="a" style="left:684.3px;top:411.5px;width:1px;height:16px;background:#E2E2E2;"></div>
<div class="a" style="left:767.5px;top:411.5px;width:1px;height:16px;background:#E2E2E2;"></div>
<div class="a" style="left:51px;top:411.5px;width:1px;height:16.5px;background:#DADADA;"></div>
<div class="a" style="left:67px;top:411.5px;width:1px;height:16.5px;background:#DADADA;"></div>
<div class="a" style="left:67px;top:419.5px;width:9px;height:1px;background:#DADADA;"></div>
<div class="t" style="left:88.20px;top:411.60px;font-size:12.3px;color:#000;line-height:16px;letter-spacing:-0.375px;">07:00 - Frühschi...</div>
<div class="t" style="left:237.55px;top:411.60px;font-size:12.3px;color:#000;line-height:16px;letter-spacing:-0.428px;">1 A</div>
<div class="a" style="left:306px;top:412px;width:64px;height:15.4px;background:#FFC800;"></div>
<div class="t" style="left:327.85px;top:411.60px;font-size:12.3px;color:#111;line-height:16px;letter-spacing:-0.424px;">-4.0</div>
<div class="a" style="left:371px;top:412px;width:68px;height:15.4px;background:#FFC800;"></div>
<div class="t" style="left:394.50px;top:411.60px;font-size:12.3px;color:#111;line-height:16px;letter-spacing:-0.735px;">45.0</div>
<svg class="a" style="left:479.7px;top:413.2px;overflow:visible;" width="14" height="14" viewBox="0 0 14 14"><rect x="0.6" y="0.6" width="12" height="12" rx="2" fill="#FDFDFD" stroke="#9E9E9E" stroke-width="1.1"/><path d="M2.6 5.4 L5.6 10.6 L12.2 0.2" fill="none" stroke="#ADADAD" stroke-width="2.1"/></svg>
<svg class="a" style="left:602px;top:413.2px;overflow:visible;" width="14" height="14" viewBox="0 0 14 14"><rect x="0.6" y="0.6" width="12" height="12" rx="2" fill="#FDFDFD" stroke="#9E9E9E" stroke-width="1.1"/><path d="M2.6 5.4 L5.6 10.6 L12.2 0.2" fill="none" stroke="#ADADAD" stroke-width="2.1"/></svg>
<svg class="a" style="left:720.2px;top:413.2px;overflow:visible;" width="14" height="14" viewBox="0 0 14 14"><rect x="0.6" y="0.6" width="12" height="12" rx="2" fill="#FDFDFD" stroke="#9E9E9E" stroke-width="1.1"/></svg>
<svg class="a" style="left:827.2px;top:413.2px;overflow:visible;" width="14" height="14" viewBox="0 0 14 14"><rect x="0.6" y="0.6" width="12" height="12" rx="2" fill="#FDFDFD" stroke="#9E9E9E" stroke-width="1.1"/></svg>
<div class="a" style="left:44px;top:443.3px;width:855.5px;height:1px;background:#E2E2E2;"></div>
<div class="a" style="left:85px;top:427.5px;width:1px;height:16px;background:#E2E2E2;"></div>
<div class="a" style="left:186.5px;top:427.5px;width:1px;height:16px;background:#E2E2E2;"></div>
<div class="a" style="left:305px;top:427.5px;width:1px;height:16px;background:#E2E2E2;"></div>
<div class="a" style="left:370px;top:427.5px;width:1px;height:16px;background:#E2E2E2;"></div>
<div class="a" style="left:439.3px;top:427.5px;width:1px;height:16px;background:#E2E2E2;"></div>
<div class="a" style="left:532.3px;top:427.5px;width:1px;height:16px;background:#E2E2E2;"></div>
<div class="a" style="left:684.3px;top:427.5px;width:1px;height:16px;background:#E2E2E2;"></div>
<div class="a" style="left:767.5px;top:427.5px;width:1px;height:16px;background:#E2E2E2;"></div>
<div class="a" style="left:51px;top:427.5px;width:1px;height:16.5px;background:#DADADA;"></div>
<div class="a" style="left:67px;top:427.5px;width:1px;height:16.5px;background:#DADADA;"></div>
<div class="a" style="left:67px;top:435.5px;width:9px;height:1px;background:#DADADA;"></div>
<div class="t" style="left:88.20px;top:427.60px;font-size:12.3px;color:#000;line-height:16px;letter-spacing:-0.428px;">15:00 - Spätschi...</div>
<div class="t" style="left:237.55px;top:427.60px;font-size:12.3px;color:#000;line-height:16px;letter-spacing:-0.428px;">1 A</div>
<div class="a" style="left:306px;top:428px;width:64px;height:15.4px;background:#FFC800;"></div>
<div class="t" style="left:327.85px;top:427.60px;font-size:12.3px;color:#111;line-height:16px;letter-spacing:-0.424px;">-3.0</div>
<div class="a" style="left:371px;top:428px;width:68px;height:15.4px;background:#FFC800;"></div>
<div class="t" style="left:394.50px;top:427.60px;font-size:12.3px;color:#111;line-height:16px;letter-spacing:-0.735px;">45.0</div>
<svg class="a" style="left:479.7px;top:429.2px;overflow:visible;" width="14" height="14" viewBox="0 0 14 14"><rect x="0.6" y="0.6" width="12" height="12" rx="2" fill="#FDFDFD" stroke="#9E9E9E" stroke-width="1.1"/><path d="M2.6 5.4 L5.6 10.6 L12.2 0.2" fill="none" stroke="#ADADAD" stroke-width="2.1"/></svg>
<svg class="a" style="left:602px;top:429.2px;overflow:visible;" width="14" height="14" viewBox="0 0 14 14"><rect x="0.6" y="0.6" width="12" height="12" rx="2" fill="#FDFDFD" stroke="#9E9E9E" stroke-width="1.1"/><path d="M2.6 5.4 L5.6 10.6 L12.2 0.2" fill="none" stroke="#ADADAD" stroke-width="2.1"/></svg>
<svg class="a" style="left:720.2px;top:429.2px;overflow:visible;" width="14" height="14" viewBox="0 0 14 14"><rect x="0.6" y="0.6" width="12" height="12" rx="2" fill="#FDFDFD" stroke="#9E9E9E" stroke-width="1.1"/></svg>
<svg class="a" style="left:827.2px;top:429.2px;overflow:visible;" width="14" height="14" viewBox="0 0 14 14"><rect x="0.6" y="0.6" width="12" height="12" rx="2" fill="#FDFDFD" stroke="#9E9E9E" stroke-width="1.1"/></svg>
<div class="a" style="left:44px;top:459.3px;width:855.5px;height:1px;background:#E2E2E2;"></div>
<div class="a" style="left:85px;top:443.5px;width:1px;height:16px;background:#E2E2E2;"></div>
<div class="a" style="left:186.5px;top:443.5px;width:1px;height:16px;background:#E2E2E2;"></div>
<div class="a" style="left:305px;top:443.5px;width:1px;height:16px;background:#E2E2E2;"></div>
<div class="a" style="left:370px;top:443.5px;width:1px;height:16px;background:#E2E2E2;"></div>
<div class="a" style="left:439.3px;top:443.5px;width:1px;height:16px;background:#E2E2E2;"></div>
<div class="a" style="left:532.3px;top:443.5px;width:1px;height:16px;background:#E2E2E2;"></div>
<div class="a" style="left:684.3px;top:443.5px;width:1px;height:16px;background:#E2E2E2;"></div>
<div class="a" style="left:767.5px;top:443.5px;width:1px;height:16px;background:#E2E2E2;"></div>
<div class="a" style="left:51px;top:443.5px;width:1px;height:16.5px;background:#DADADA;"></div>
<div class="a" style="left:67px;top:443.5px;width:1px;height:8.5px;background:#DADADA;"></div>
<div class="a" style="left:67px;top:451.5px;width:9px;height:1px;background:#DADADA;"></div>
<div class="t" style="left:88.20px;top:443.60px;font-size:12.3px;color:#000;line-height:16px;letter-spacing:-0.383px;">23:00 - Nachtsc...</div>
<div class="t" style="left:237.55px;top:443.60px;font-size:12.3px;color:#000;line-height:16px;letter-spacing:-0.428px;">1 A</div>
<div class="a" style="left:306px;top:444px;width:64px;height:15.4px;background:#FFC800;"></div>
<div class="t" style="left:327.85px;top:443.60px;font-size:12.3px;color:#111;line-height:16px;letter-spacing:-0.424px;">-5.0</div>
<div class="a" style="left:371px;top:444px;width:68px;height:15.4px;background:#FFC800;"></div>
<div class="t" style="left:394.50px;top:443.60px;font-size:12.3px;color:#111;line-height:16px;letter-spacing:-0.735px;">45.0</div>
<svg class="a" style="left:479.7px;top:445.2px;overflow:visible;" width="14" height="14" viewBox="0 0 14 14"><rect x="0.6" y="0.6" width="12" height="12" rx="2" fill="#FDFDFD" stroke="#9E9E9E" stroke-width="1.1"/><path d="M2.6 5.4 L5.6 10.6 L12.2 0.2" fill="none" stroke="#ADADAD" stroke-width="2.1"/></svg>
<svg class="a" style="left:602px;top:445.2px;overflow:visible;" width="14" height="14" viewBox="0 0 14 14"><rect x="0.6" y="0.6" width="12" height="12" rx="2" fill="#FDFDFD" stroke="#9E9E9E" stroke-width="1.1"/><path d="M2.6 5.4 L5.6 10.6 L12.2 0.2" fill="none" stroke="#ADADAD" stroke-width="2.1"/></svg>
<svg class="a" style="left:720.2px;top:445.2px;overflow:visible;" width="14" height="14" viewBox="0 0 14 14"><rect x="0.6" y="0.6" width="12" height="12" rx="2" fill="#FDFDFD" stroke="#9E9E9E" stroke-width="1.1"/></svg>
<svg class="a" style="left:827.2px;top:445.2px;overflow:visible;" width="14" height="14" viewBox="0 0 14 14"><rect x="0.6" y="0.6" width="12" height="12" rx="2" fill="#FDFDFD" stroke="#9E9E9E" stroke-width="1.1"/></svg>
<div class="a" style="left:44px;top:460px;width:855.5px;height:15.3px;background:#C0C0C0;"></div>
<div class="a" style="left:85px;top:460px;width:1.2px;height:15.3px;background:#CECECE;"></div>
<div class="a" style="left:186.5px;top:460px;width:1.2px;height:15.3px;background:#CECECE;"></div>
<div class="a" style="left:305px;top:460px;width:1.2px;height:15.3px;background:#CECECE;"></div>
<div class="a" style="left:370px;top:460px;width:1.2px;height:15.3px;background:#CECECE;"></div>
<div class="a" style="left:439.3px;top:460px;width:1.2px;height:15.3px;background:#CECECE;"></div>
<div class="a" style="left:532.3px;top:460px;width:1.2px;height:15.3px;background:#CECECE;"></div>
<div class="a" style="left:684.3px;top:460px;width:1.2px;height:15.3px;background:#CECECE;"></div>
<div class="a" style="left:767.5px;top:460px;width:1.2px;height:15.3px;background:#CECECE;"></div>
<div class="t" style="left:88.20px;top:459.60px;font-size:12.3px;color:#000;line-height:16px;font-weight:bold;letter-spacing:-0.006px;">22.01.2017</div>
<svg class="a" style="left:45px;top:461px;" width="20" height="15" viewBox="0 0 20 15"><path d="M11.2 7.3 L14.8 7.3" stroke="#E6E6E6" stroke-width="1"/><rect x="3.2" y="3.6" width="6.8" height="6.6" rx="1.6" fill="#DCDCDC" stroke="#F0F0F0" stroke-width="1.1"/><path d="M4.4 7 L8.8 7" stroke="#fff" stroke-width="1.3"/><path d="M6.5 10.8 L6.5 15" stroke="#D6D6D6" stroke-width="1"/></svg>
<div class="a" style="left:44px;top:491.3px;width:855.5px;height:1px;background:#E2E2E2;"></div>
<div class="a" style="left:85px;top:475.5px;width:1px;height:16px;background:#E2E2E2;"></div>
<div class="a" style="left:186.5px;top:475.5px;width:1px;height:16px;background:#E2E2E2;"></div>
<div class="a" style="left:305px;top:475.5px;width:1px;height:16px;background:#E2E2E2;"></div>
<div class="a" style="left:370px;top:475.5px;width:1px;height:16px;background:#E2E2E2;"></div>
<div class="a" style="left:439.3px;top:475.5px;width:1px;height:16px;background:#E2E2E2;"></div>
<div class="a" style="left:532.3px;top:475.5px;width:1px;height:16px;background:#E2E2E2;"></div>
<div class="a" style="left:684.3px;top:475.5px;width:1px;height:16px;background:#E2E2E2;"></div>
<div class="a" style="left:767.5px;top:475.5px;width:1px;height:16px;background:#E2E2E2;"></div>
<div class="a" style="left:51px;top:475.5px;width:1px;height:16.5px;background:#DADADA;"></div>
<div class="a" style="left:67px;top:475.5px;width:1px;height:16.5px;background:#DADADA;"></div>
<div class="a" style="left:67px;top:483.5px;width:9px;height:1px;background:#DADADA;"></div>
<div class="t" style="left:88.20px;top:475.60px;font-size:12.3px;color:#000;line-height:16px;letter-spacing:-0.375px;">07:00 - Frühschi...</div>
<div class="t" style="left:237.55px;top:475.60px;font-size:12.3px;color:#000;line-height:16px;letter-spacing:-0.428px;">1 A</div>
<div class="a" style="left:306px;top:476px;width:64px;height:15.4px;background:#FFC800;"></div>
<div class="t" style="left:327.85px;top:475.60px;font-size:12.3px;color:#111;line-height:16px;letter-spacing:-0.424px;">-4.0</div>
<div class="a" style="left:371px;top:476px;width:68px;height:15.4px;background:#FFC800;"></div>
<div class="t" style="left:394.50px;top:475.60px;font-size:12.3px;color:#111;line-height:16px;letter-spacing:-0.735px;">45.0</div>
<svg class="a" style="left:479.7px;top:477.2px;overflow:visible;" width="14" height="14" viewBox="0 0 14 14"><rect x="0.6" y="0.6" width="12" height="12" rx="2" fill="#FDFDFD" stroke="#9E9E9E" stroke-width="1.1"/><path d="M2.6 5.4 L5.6 10.6 L12.2 0.2" fill="none" stroke="#ADADAD" stroke-width="2.1"/></svg>
<svg class="a" style="left:602px;top:477.2px;overflow:visible;" width="14" height="14" viewBox="0 0 14 14"><rect x="0.6" y="0.6" width="12" height="12" rx="2" fill="#FDFDFD" stroke="#9E9E9E" stroke-width="1.1"/><path d="M2.6 5.4 L5.6 10.6 L12.2 0.2" fill="none" stroke="#ADADAD" stroke-width="2.1"/></svg>
<svg class="a" style="left:720.2px;top:477.2px;overflow:visible;" width="14" height="14" viewBox="0 0 14 14"><rect x="0.6" y="0.6" width="12" height="12" rx="2" fill="#FDFDFD" stroke="#9E9E9E" stroke-width="1.1"/></svg>
<svg class="a" style="left:827.2px;top:477.2px;overflow:visible;" width="14" height="14" viewBox="0 0 14 14"><rect x="0.6" y="0.6" width="12" height="12" rx="2" fill="#FDFDFD" stroke="#9E9E9E" stroke-width="1.1"/></svg>
<div class="a" style="left:44px;top:507.3px;width:855.5px;height:1px;background:#E2E2E2;"></div>
<div class="a" style="left:85px;top:491.5px;width:1px;height:16px;background:#E2E2E2;"></div>
<div class="a" style="left:186.5px;top:491.5px;width:1px;height:16px;background:#E2E2E2;"></div>
<div class="a" style="left:305px;top:491.5px;width:1px;height:16px;background:#E2E2E2;"></div>
<div class="a" style="left:370px;top:491.5px;width:1px;height:16px;background:#E2E2E2;"></div>
<div class="a" style="left:439.3px;top:491.5px;width:1px;height:16px;background:#E2E2E2;"></div>
<div class="a" style="left:532.3px;top:491.5px;width:1px;height:16px;background:#E2E2E2;"></div>
<div class="a" style="left:684.3px;top:491.5px;width:1px;height:16px;background:#E2E2E2;"></div>
<div class="a" style="left:767.5px;top:491.5px;width:1px;height:16px;background:#E2E2E2;"></div>
<div class="a" style="left:51px;top:491.5px;width:1px;height:16.5px;background:#DADADA;"></div>
<div class="a" style="left:67px;top:491.5px;width:1px;height:16.5px;background:#DADADA;"></div>
<div class="a" style="left:67px;top:499.5px;width:9px;height:1px;background:#DADADA;"></div>
<div class="t" style="left:88.20px;top:491.60px;font-size:12.3px;color:#000;line-height:16px;letter-spacing:-0.428px;">15:00 - Spätschi...</div>
<div class="t" style="left:237.55px;top:491.60px;font-size:12.3px;color:#000;line-height:16px;letter-spacing:-0.428px;">1 A</div>
<div class="a" style="left:306px;top:492px;width:64px;height:15.4px;background:#FFC800;"></div>
<div class="t" style="left:329.60px;top:491.60px;font-size:12.3px;color:#111;line-height:16px;letter-spacing:-0.366px;">1.0</div>
<div class="a" style="left:371px;top:492px;width:68px;height:15.4px;background:#FFC800;"></div>
<div class="t" style="left:394.50px;top:491.60px;font-size:12.3px;color:#111;line-height:16px;letter-spacing:-0.735px;">45.0</div>
<svg class="a" style="left:479.7px;top:493.2px;overflow:visible;" width="14" height="14" viewBox="0 0 14 14"><rect x="0.6" y="0.6" width="12" height="12" rx="2" fill="#FDFDFD" stroke="#9E9E9E" stroke-width="1.1"/><path d="M2.6 5.4 L5.6 10.6 L12.2 0.2" fill="none" stroke="#ADADAD" stroke-width="2.1"/></svg>
<svg class="a" style="left:602px;top:493.2px;overflow:visible;" width="14" height="14" viewBox="0 0 14 14"><rect x="0.6" y="0.6" width="12" height="12" rx="2" fill="#FDFDFD" stroke="#9E9E9E" stroke-width="1.1"/><path d="M2.6 5.4 L5.6 10.6 L12.2 0.2" fill="none" stroke="#ADADAD" stroke-width="2.1"/></svg>
<svg class="a" style="left:720.2px;top:493.2px;overflow:visible;" width="14" height="14" viewBox="0 0 14 14"><rect x="0.6" y="0.6" width="12" height="12" rx="2" fill="#FDFDFD" stroke="#9E9E9E" stroke-width="1.1"/></svg>
<svg class="a" style="left:827.2px;top:493.2px;overflow:visible;" width="14" height="14" viewBox="0 0 14 14"><rect x="0.6" y="0.6" width="12" height="12" rx="2" fill="#FDFDFD" stroke="#9E9E9E" stroke-width="1.1"/></svg>
<div class="a" style="left:44px;top:523.3px;width:855.5px;height:1px;background:#E2E2E2;"></div>
<div class="a" style="left:85px;top:507.5px;width:1px;height:16px;background:#E2E2E2;"></div>
<div class="a" style="left:186.5px;top:507.5px;width:1px;height:16px;background:#E2E2E2;"></div>
<div class="a" style="left:305px;top:507.5px;width:1px;height:16px;background:#E2E2E2;"></div>
<div class="a" style="left:370px;top:507.5px;width:1px;height:16px;background:#E2E2E2;"></div>
<div class="a" style="left:439.3px;top:507.5px;width:1px;height:16px;background:#E2E2E2;"></div>
<div class="a" style="left:532.3px;top:507.5px;width:1px;height:16px;background:#E2E2E2;"></div>
<div class="a" style="left:684.3px;top:507.5px;width:1px;height:16px;background:#E2E2E2;"></div>
<div class="a" style="left:767.5px;top:507.5px;width:1px;height:16px;background:#E2E2E2;"></div>
<div class="a" style="left:51px;top:507.5px;width:1px;height:16.5px;background:#DADADA;"></div>
<div class="a" style="left:67px;top:507.5px;width:1px;height:8.5px;background:#DADADA;"></div>
<div class="a" style="left:67px;top:515.5px;width:9px;height:1px;background:#DADADA;"></div>
<div class="t" style="left:88.20px;top:507.60px;font-size:12.3px;color:#000;line-height:16px;letter-spacing:-0.383px;">23:00 - Nachtsc...</div>
<div class="t" style="left:237.55px;top:507.60px;font-size:12.3px;color:#000;line-height:16px;letter-spacing:-0.428px;">1 A</div>
<div class="a" style="left:306px;top:508px;width:64px;height:15.4px;background:#FFC800;"></div>
<div class="t" style="left:329.60px;top:507.60px;font-size:12.3px;color:#111;line-height:16px;letter-spacing:-0.366px;">1.0</div>
<div class="a" style="left:371px;top:508px;width:68px;height:15.4px;background:#FFC800;"></div>
<div class="t" style="left:394.50px;top:507.60px;font-size:12.3px;color:#111;line-height:16px;letter-spacing:-0.735px;">40.0</div>
<svg class="a" style="left:479.7px;top:509.2px;overflow:visible;" width="14" height="14" viewBox="0 0 14 14"><rect x="0.6" y="0.6" width="12" height="12" rx="2" fill="#FDFDFD" stroke="#9E9E9E" stroke-width="1.1"/><path d="M2.6 5.4 L5.6 10.6 L12.2 0.2" fill="none" stroke="#ADADAD" stroke-width="2.1"/></svg>
<svg class="a" style="left:602px;top:509.2px;overflow:visible;" width="14" height="14" viewBox="0 0 14 14"><rect x="0.6" y="0.6" width="12" height="12" rx="2" fill="#FDFDFD" stroke="#9E9E9E" stroke-width="1.1"/><path d="M2.6 5.4 L5.6 10.6 L12.2 0.2" fill="none" stroke="#ADADAD" stroke-width="2.1"/></svg>
<svg class="a" style="left:720.2px;top:509.2px;overflow:visible;" width="14" height="14" viewBox="0 0 14 14"><rect x="0.6" y="0.6" width="12" height="12" rx="2" fill="#FDFDFD" stroke="#9E9E9E" stroke-width="1.1"/></svg>
<svg class="a" style="left:827.2px;top:509.2px;overflow:visible;" width="14" height="14" viewBox="0 0 14 14"><rect x="0.6" y="0.6" width="12" height="12" rx="2" fill="#FDFDFD" stroke="#9E9E9E" stroke-width="1.1"/></svg>
<div class="a" style="left:44px;top:524px;width:855.5px;height:15.3px;background:#C0C0C0;"></div>
<div class="a" style="left:85px;top:524px;width:1.2px;height:15.3px;background:#CECECE;"></div>
<div class="a" style="left:186.5px;top:524px;width:1.2px;height:15.3px;background:#CECECE;"></div>
<div class="a" style="left:305px;top:524px;width:1.2px;height:15.3px;background:#CECECE;"></div>
<div class="a" style="left:370px;top:524px;width:1.2px;height:15.3px;background:#CECECE;"></div>
<div class="a" style="left:439.3px;top:524px;width:1.2px;height:15.3px;background:#CECECE;"></div>
<div class="a" style="left:532.3px;top:524px;width:1.2px;height:15.3px;background:#CECECE;"></div>
<div class="a" style="left:684.3px;top:524px;width:1.2px;height:15.3px;background:#CECECE;"></div>
<div class="a" style="left:767.5px;top:524px;width:1.2px;height:15.3px;background:#CECECE;"></div>
<div class="t" style="left:88.20px;top:523.60px;font-size:12.3px;color:#000;line-height:16px;font-weight:bold;letter-spacing:-0.006px;">23.01.2017</div>
<svg class="a" style="left:45px;top:525px;" width="20" height="15" viewBox="0 0 20 15"><path d="M11.2 7.3 L14.8 7.3" stroke="#E6E6E6" stroke-width="1"/><rect x="3.2" y="3.6" width="6.8" height="6.6" rx="1.6" fill="#DCDCDC" stroke="#F0F0F0" stroke-width="1.1"/><path d="M4.4 7 L8.8 7" stroke="#fff" stroke-width="1.3"/><path d="M6.5 10.8 L6.5 15" stroke="#D6D6D6" stroke-width="1"/></svg>
<div class="a" style="left:44px;top:555.3px;width:855.5px;height:1px;background:#E2E2E2;"></div>
<div class="a" style="left:85px;top:539.5px;width:1px;height:16px;background:#E2E2E2;"></div>
<div class="a" style="left:186.5px;top:539.5px;width:1px;height:16px;background:#E2E2E2;"></div>
<div class="a" style="left:305px;top:539.5px;width:1px;height:16px;background:#E2E2E2;"></div>
<div class="a" style="left:370px;top:539.5px;width:1px;height:16px;background:#E2E2E2;"></div>
<div class="a" style="left:439.3px;top:539.5px;width:1px;height:16px;background:#E2E2E2;"></div>
<div class="a" style="left:532.3px;top:539.5px;width:1px;height:16px;background:#E2E2E2;"></div>
<div class="a" style="left:684.3px;top:539.5px;width:1px;height:16px;background:#E2E2E2;"></div>
<div class="a" style="left:767.5px;top:539.5px;width:1px;height:16px;background:#E2E2E2;"></div>
<div class="a" style="left:51px;top:539.5px;width:1px;height:16.5px;background:#DADADA;"></div>
<div class="a" style="left:67px;top:539.5px;width:1px;height:16.5px;background:#DADADA;"></div>
<div class="a" style="left:67px;top:547.5px;width:9px;height:1px;background:#DADADA;"></div>
<div class="t" style="left:88.20px;top:539.60px;font-size:12.3px;color:#000;line-height:16px;letter-spacing:-0.375px;">07:00 - Frühschi...</div>
<div class="t" style="left:237.55px;top:539.60px;font-size:12.3px;color:#000;line-height:16px;letter-spacing:-0.428px;">1 A</div>
<div class="a" style="left:306px;top:540px;width:64px;height:15.4px;background:#FFC800;"></div>
<div class="t" style="left:327.85px;top:539.60px;font-size:12.3px;color:#111;line-height:16px;letter-spacing:-0.424px;">-4.0</div>
<div class="a" style="left:371px;top:540px;width:68px;height:15.4px;background:#FFC800;"></div>
<div class="t" style="left:394.50px;top:539.60px;font-size:12.3px;color:#111;line-height:16px;letter-spacing:-0.735px;">40.0</div>
<svg class="a" style="left:479.7px;top:541.2px;overflow:visible;" width="14" height="14" viewBox="0 0 14 14"><rect x="0.6" y="0.6" width="12" height="12" rx="2" fill="#FDFDFD" stroke="#9E9E9E" stroke-width="1.1"/><path d="M2.6 5.4 L5.6 10.6 L12.2 0.2" fill="none" stroke="#ADADAD" stroke-width="2.1"/></svg>
<svg class="a" style="left:602px;top:541.2px;overflow:visible;" width="14" height="14" viewBox="0 0 14 14"><rect x="0.6" y="0.6" width="12" height="12" rx="2" fill="#FDFDFD" stroke="#9E9E9E" stroke-width="1.1"/><path d="M2.6 5.4 L5.6 10.6 L12.2 0.2" fill="none" stroke="#ADADAD" stroke-width="2.1"/></svg>
<svg class="a" style="left:720.2px;top:541.2px;overflow:visible;" width="14" height="14" viewBox="0 0 14 14"><rect x="0.6" y="0.6" width="12" height="12" rx="2" fill="#FDFDFD" stroke="#9E9E9E" stroke-width="1.1"/></svg>
<svg class="a" style="left:827.2px;top:541.2px;overflow:visible;" width="14" height="14" viewBox="0 0 14 14"><rect x="0.6" y="0.6" width="12" height="12" rx="2" fill="#FDFDFD" stroke="#9E9E9E" stroke-width="1.1"/></svg>
<div class="a" style="left:44px;top:571.3px;width:855.5px;height:1px;background:#E2E2E2;"></div>
<div class="a" style="left:85px;top:555.5px;width:1px;height:16px;background:#E2E2E2;"></div>
<div class="a" style="left:186.5px;top:555.5px;width:1px;height:16px;background:#E2E2E2;"></div>
<div class="a" style="left:305px;top:555.5px;width:1px;height:16px;background:#E2E2E2;"></div>
<div class="a" style="left:370px;top:555.5px;width:1px;height:16px;background:#E2E2E2;"></div>
<div class="a" style="left:439.3px;top:555.5px;width:1px;height:16px;background:#E2E2E2;"></div>
<div class="a" style="left:532.3px;top:555.5px;width:1px;height:16px;background:#E2E2E2;"></div>
<div class="a" style="left:684.3px;top:555.5px;width:1px;height:16px;background:#E2E2E2;"></div>
<div class="a" style="left:767.5px;top:555.5px;width:1px;height:16px;background:#E2E2E2;"></div>
<div class="a" style="left:51px;top:555.5px;width:1px;height:16.5px;background:#DADADA;"></div>
<div class="a" style="left:67px;top:555.5px;width:1px;height:16.5px;background:#DADADA;"></div>
<div class="a" style="left:67px;top:563.5px;width:9px;height:1px;background:#DADADA;"></div>
<div class="t" style="left:88.20px;top:555.60px;font-size:12.3px;color:#000;line-height:16px;letter-spacing:-0.428px;">15:00 - Spätschi...</div>
<div class="a" style="left:306px;top:556px;width:64px;height:15.4px;background:#FFC800;"></div>
<div class="t" style="left:327.85px;top:555.60px;font-size:12.3px;color:#111;line-height:16px;letter-spacing:-0.424px;">-4.0</div>
<div class="a" style="left:371px;top:556px;width:68px;height:15.4px;background:#FF0000;"></div>
<svg class="a" style="left:479.7px;top:557.2px;overflow:visible;" width="14" height="14" viewBox="0 0 14 14"><rect x="0.6" y="0.6" width="12" height="12" rx="2" fill="#FDFDFD" stroke="#9E9E9E" stroke-width="1.1"/></svg>
<svg class="a" style="left:602px;top:557.2px;overflow:visible;" width="14" height="14" viewBox="0 0 14 14"><rect x="0.6" y="0.6" width="12" height="12" rx="2" fill="#FDFDFD" stroke="#9E9E9E" stroke-width="1.1"/></svg>
<svg class="a" style="left:720.2px;top:557.2px;overflow:visible;" width="14" height="14" viewBox="0 0 14 14"><rect x="0.6" y="0.6" width="12" height="12" rx="2" fill="#FDFDFD" stroke="#9E9E9E" stroke-width="1.1"/></svg>
<svg class="a" style="left:827.2px;top:557.2px;overflow:visible;" width="14" height="14" viewBox="0 0 14 14"><rect x="0.6" y="0.6" width="12" height="12" rx="2" fill="#FDFDFD" stroke="#9E9E9E" stroke-width="1.1"/></svg>
<div class="a" style="left:44px;top:587.3px;width:855.5px;height:1px;background:#E2E2E2;"></div>
<div class="a" style="left:85px;top:571.5px;width:1px;height:16px;background:#E2E2E2;"></div>
<div class="a" style="left:186.5px;top:571.5px;width:1px;height:16px;background:#E2E2E2;"></div>
<div class="a" style="left:305px;top:571.5px;width:1px;height:16px;background:#E2E2E2;"></div>
<div class="a" style="left:370px;top:571.5px;width:1px;height:16px;background:#E2E2E2;"></div>
<div class="a" style="left:439.3px;top:571.5px;width:1px;height:16px;background:#E2E2E2;"></div>
<div class="a" style="left:532.3px;top:571.5px;width:1px;height:16px;background:#E2E2E2;"></div>
<div class="a" style="left:684.3px;top:571.5px;width:1px;height:16px;background:#E2E2E2;"></div>
<div class="a" style="left:767.5px;top:571.5px;width:1px;height:16px;background:#E2E2E2;"></div>
<div class="a" style="left:51px;top:571.5px;width:1px;height:16.5px;background:#DADADA;"></div>
<div class="a" style="left:67px;top:571.5px;width:1px;height:8.5px;background:#DADADA;"></div>
<div class="a" style="left:67px;top:579.5px;width:9px;height:1px;background:#DADADA;"></div>
<div class="t" style="left:88.20px;top:571.60px;font-size:12.3px;color:#000;line-height:16px;letter-spacing:-0.383px;">23:00 - Nachtsc...</div>
<div class="t" style="left:237.55px;top:571.60px;font-size:12.3px;color:#000;line-height:16px;letter-spacing:-0.428px;">1 A</div>
<div class="a" style="left:306px;top:572px;width:64px;height:15.4px;background:#FFC800;"></div>
<div class="t" style="left:327.85px;top:571.60px;font-size:12.3px;color:#111;line-height:16px;letter-spacing:-0.424px;">-4.0</div>
<div class="a" style="left:371px;top:572px;width:68px;height:15.4px;background:#FFC800;"></div>
<div class="t" style="left:394.50px;top:571.60px;font-size:12.3px;color:#111;line-height:16px;letter-spacing:-0.735px;">40.0</div>
<svg class="a" style="left:479.7px;top:573.2px;overflow:visible;" width="14" height="14" viewBox="0 0 14 14"><rect x="0.6" y="0.6" width="12" height="12" rx="2" fill="#FDFDFD" stroke="#9E9E9E" stroke-width="1.1"/><path d="M2.6 5.4 L5.6 10.6 L12.2 0.2" fill="none" stroke="#ADADAD" stroke-width="2.1"/></svg>
<svg class="a" style="left:602px;top:573.2px;overflow:visible;" width="14" height="14" viewBox="0 0 14 14"><rect x="0.6" y="0.6" width="12" height="12" rx="2" fill="#FDFDFD" stroke="#9E9E9E" stroke-width="1.1"/><path d="M2.6 5.4 L5.6 10.6 L12.2 0.2" fill="none" stroke="#ADADAD" stroke-width="2.1"/></svg>
<svg class="a" style="left:720.2px;top:573.2px;overflow:visible;" width="14" height="14" viewBox="0 0 14 14"><rect x="0.6" y="0.6" width="12" height="12" rx="2" fill="#FDFDFD" stroke="#9E9E9E" stroke-width="1.1"/></svg>
<svg class="a" style="left:827.2px;top:573.2px;overflow:visible;" width="14" height="14" viewBox="0 0 14 14"><rect x="0.6" y="0.6" width="12" height="12" rx="2" fill="#FDFDFD" stroke="#9E9E9E" stroke-width="1.1"/></svg>
<div class="a" style="left:44px;top:588px;width:855.5px;height:15.3px;background:#C0C0C0;"></div>
<div class="a" style="left:85px;top:588px;width:1.2px;height:15.3px;background:#CECECE;"></div>
<div class="a" style="left:186.5px;top:588px;width:1.2px;height:15.3px;background:#CECECE;"></div>
<div class="a" style="left:305px;top:588px;width:1.2px;height:15.3px;background:#CECECE;"></div>
<div class="a" style="left:370px;top:588px;width:1.2px;height:15.3px;background:#CECECE;"></div>
<div class="a" style="left:439.3px;top:588px;width:1.2px;height:15.3px;background:#CECECE;"></div>
<div class="a" style="left:532.3px;top:588px;width:1.2px;height:15.3px;background:#CECECE;"></div>
<div class="a" style="left:684.3px;top:588px;width:1.2px;height:15.3px;background:#CECECE;"></div>
<div class="a" style="left:767.5px;top:588px;width:1.2px;height:15.3px;background:#CECECE;"></div>
<div class="t" style="left:88.20px;top:587.60px;font-size:12.3px;color:#000;line-height:16px;font-weight:bold;letter-spacing:-0.006px;">24.01.2017</div>
<svg class="a" style="left:45px;top:589px;" width="20" height="15" viewBox="0 0 20 15"><path d="M11.2 7.3 L14.8 7.3" stroke="#E6E6E6" stroke-width="1"/><rect x="3.2" y="3.6" width="6.8" height="6.6" rx="1.6" fill="#DCDCDC" stroke="#F0F0F0" stroke-width="1.1"/><path d="M4.4 7 L8.8 7" stroke="#fff" stroke-width="1.3"/><path d="M6.5 10.8 L6.5 15" stroke="#D6D6D6" stroke-width="1"/></svg>
<div class="a" style="left:44px;top:619.3px;width:855.5px;height:1px;background:#E2E2E2;"></div>
<div class="a" style="left:85px;top:603.5px;width:1px;height:16px;background:#E2E2E2;"></div>
<div class="a" style="left:186.5px;top:603.5px;width:1px;height:16px;background:#E2E2E2;"></div>
<div class="a" style="left:305px;top:603.5px;width:1px;height:16px;background:#E2E2E2;"></div>
<div class="a" style="left:370px;top:603.5px;width:1px;height:16px;background:#E2E2E2;"></div>
<div class="a" style="left:439.3px;top:603.5px;width:1px;height:16px;background:#E2E2E2;"></div>
<div class="a" style="left:532.3px;top:603.5px;width:1px;height:16px;background:#E2E2E2;"></div>
<div class="a" style="left:684.3px;top:603.5px;width:1px;height:16px;background:#E2E2E2;"></div>
<div class="a" style="left:767.5px;top:603.5px;width:1px;height:16px;background:#E2E2E2;"></div>
<div class="a" style="left:51px;top:603.5px;width:1px;height:16.5px;background:#DADADA;"></div>
<div class="a" style="left:67px;top:603.5px;width:1px;height:16.5px;background:#DADADA;"></div>
<div class="a" style="left:67px;top:611.5px;width:9px;height:1px;background:#DADADA;"></div>
<div class="t" style="left:88.20px;top:603.60px;font-size:12.3px;color:#000;line-height:16px;letter-spacing:-0.375px;">07:00 - Frühschi...</div>
<div class="t" style="left:237.55px;top:603.60px;font-size:12.3px;color:#000;line-height:16px;letter-spacing:-0.428px;">1 A</div>
<div class="a" style="left:306px;top:604px;width:64px;height:15.4px;background:#FFC800;"></div>
<div class="t" style="left:327.85px;top:603.60px;font-size:12.3px;color:#111;line-height:16px;letter-spacing:-0.424px;">-4.0</div>
<div class="a" style="left:371px;top:604px;width:68px;height:15.4px;background:#FFC800;"></div>
<div class="t" style="left:394.50px;top:603.60px;font-size:12.3px;color:#111;line-height:16px;letter-spacing:-0.735px;">40.0</div>
<svg class="a" style="left:479.7px;top:605.2px;overflow:visible;" width="14" height="14" viewBox="0 0 14 14"><rect x="0.6" y="0.6" width="12" height="12" rx="2" fill="#FDFDFD" stroke="#9E9E9E" stroke-width="1.1"/><path d="M2.6 5.4 L5.6 10.6 L12.2 0.2" fill="none" stroke="#ADADAD" stroke-width="2.1"/></svg>
<svg class="a" style="left:602px;top:605.2px;overflow:visible;" width="14" height="14" viewBox="0 0 14 14"><rect x="0.6" y="0.6" width="12" height="12" rx="2" fill="#FDFDFD" stroke="#9E9E9E" stroke-width="1.1"/><path d="M2.6 5.4 L5.6 10.6 L12.2 0.2" fill="none" stroke="#ADADAD" stroke-width="2.1"/></svg>
<svg class="a" style="left:720.2px;top:605.2px;overflow:visible;" width="14" height="14" viewBox="0 0 14 14"><rect x="0.6" y="0.6" width="12" height="12" rx="2" fill="#FDFDFD" stroke="#9E9E9E" stroke-width="1.1"/></svg>
<svg class="a" style="left:827.2px;top:605.2px;overflow:visible;" width="14" height="14" viewBox="0 0 14 14"><rect x="0.6" y="0.6" width="12" height="12" rx="2" fill="#FDFDFD" stroke="#9E9E9E" stroke-width="1.1"/></svg>
<div class="a" style="left:44px;top:635.3px;width:855.5px;height:1px;background:#E2E2E2;"></div>
<div class="a" style="left:85px;top:619.5px;width:1px;height:16px;background:#E2E2E2;"></div>
<div class="a" style="left:186.5px;top:619.5px;width:1px;height:16px;background:#E2E2E2;"></div>
<div class="a" style="left:305px;top:619.5px;width:1px;height:16px;background:#E2E2E2;"></div>
<div class="a" style="left:370px;top:619.5px;width:1px;height:16px;background:#E2E2E2;"></div>
<div class="a" style="left:439.3px;top:619.5px;width:1px;height:16px;background:#E2E2E2;"></div>
<div class="a" style="left:532.3px;top:619.5px;width:1px;height:16px;background:#E2E2E2;"></div>
<div class="a" style="left:684.3px;top:619.5px;width:1px;height:16px;background:#E2E2E2;"></div>
<div class="a" style="left:767.5px;top:619.5px;width:1px;height:16px;background:#E2E2E2;"></div>
<div class="a" style="left:51px;top:619.5px;width:1px;height:16.5px;background:#DADADA;"></div>
<div class="a" style="left:67px;top:619.5px;width:1px;height:16.5px;background:#DADADA;"></div>
<div class="a" style="left:67px;top:627.5px;width:9px;height:1px;background:#DADADA;"></div>
<div class="t" style="left:88.20px;top:619.60px;font-size:12.3px;color:#000;line-height:16px;letter-spacing:-0.428px;">15:00 - Spätschi...</div>
<div class="t" style="left:237.55px;top:619.60px;font-size:12.3px;color:#000;line-height:16px;letter-spacing:-0.428px;">1 A</div>
<div class="a" style="left:306px;top:620px;width:64px;height:15.4px;background:#FFC800;"></div>
<div class="t" style="left:327.85px;top:619.60px;font-size:12.3px;color:#111;line-height:16px;letter-spacing:-0.424px;">-4.0</div>
<div class="a" style="left:371px;top:620px;width:68px;height:15.4px;background:#FFC800;"></div>
<div class="t" style="left:394.50px;top:619.60px;font-size:12.3px;color:#111;line-height:16px;letter-spacing:-0.735px;">40.0</div>
<svg class="a" style="left:479.7px;top:621.2px;overflow:visible;" width="14" height="14" viewBox="0 0 14 14"><rect x="0.6" y="0.6" width="12" height="12" rx="2" fill="#FDFDFD" stroke="#9E9E9E" stroke-width="1.1"/><path d="M2.6 5.4 L5.6 10.6 L12.2 0.2" fill="none" stroke="#ADADAD" stroke-width="2.1"/></svg>
<svg class="a" style="left:602px;top:621.2px;overflow:visible;" width="14" height="14" viewBox="0 0 14 14"><rect x="0.6" y="0.6" width="12" height="12" rx="2" fill="#FDFDFD" stroke="#9E9E9E" stroke-width="1.1"/><path d="M2.6 5.4 L5.6 10.6 L12.2 0.2" fill="none" stroke="#ADADAD" stroke-width="2.1"/></svg>
<svg class="a" style="left:720.2px;top:621.2px;overflow:visible;" width="14" height="14" viewBox="0 0 14 14"><rect x="0.6" y="0.6" width="12" height="12" rx="2" fill="#FDFDFD" stroke="#9E9E9E" stroke-width="1.1"/></svg>
<svg class="a" style="left:827.2px;top:621.2px;overflow:visible;" width="14" height="14" viewBox="0 0 14 14"><rect x="0.6" y="0.6" width="12" height="12" rx="2" fill="#FDFDFD" stroke="#9E9E9E" stroke-width="1.1"/></svg>
<div class="a" style="left:44px;top:651.3px;width:855.5px;height:1px;background:#E2E2E2;"></div>
<div class="a" style="left:85px;top:635.5px;width:1px;height:16px;background:#E2E2E2;"></div>
<div class="a" style="left:186.5px;top:635.5px;width:1px;height:16px;background:#E2E2E2;"></div>
<div class="a" style="left:305px;top:635.5px;width:1px;height:16px;background:#E2E2E2;"></div>
<div class="a" style="left:370px;top:635.5px;width:1px;height:16px;background:#E2E2E2;"></div>
<div class="a" style="left:439.3px;top:635.5px;width:1px;height:16px;background:#E2E2E2;"></div>
<div class="a" style="left:532.3px;top:635.5px;width:1px;height:16px;background:#E2E2E2;"></div>
<div class="a" style="left:684.3px;top:635.5px;width:1px;height:16px;background:#E2E2E2;"></div>
<div class="a" style="left:767.5px;top:635.5px;width:1px;height:16px;background:#E2E2E2;"></div>
<div class="a" style="left:51px;top:635.5px;width:1px;height:16.5px;background:#DADADA;"></div>
<div class="a" style="left:67px;top:635.5px;width:1px;height:8.5px;background:#DADADA;"></div>
<div class="a" style="left:67px;top:643.5px;width:9px;height:1px;background:#DADADA;"></div>
<div class="t" style="left:88.20px;top:635.60px;font-size:12.3px;color:#000;line-height:16px;letter-spacing:-0.383px;">23:00 - Nachtsc...</div>
<div class="t" style="left:237.55px;top:635.60px;font-size:12.3px;color:#000;line-height:16px;letter-spacing:-0.428px;">1 A</div>
<div class="a" style="left:306px;top:636px;width:64px;height:15.4px;background:#FFC800;"></div>
<div class="t" style="left:327.85px;top:635.60px;font-size:12.3px;color:#111;line-height:16px;letter-spacing:-0.424px;">-4.0</div>
<div class="a" style="left:371px;top:636px;width:68px;height:15.4px;background:#FFC800;"></div>
<div class="t" style="left:394.50px;top:635.60px;font-size:12.3px;color:#111;line-height:16px;letter-spacing:-0.735px;">40.0</div>
<svg class="a" style="left:479.7px;top:637.2px;overflow:visible;" width="14" height="14" viewBox="0 0 14 14"><rect x="0.6" y="0.6" width="12" height="12" rx="2" fill="#FDFDFD" stroke="#9E9E9E" stroke-width="1.1"/><path d="M2.6 5.4 L5.6 10.6 L12.2 0.2" fill="none" stroke="#ADADAD" stroke-width="2.1"/></svg>
<svg class="a" style="left:602px;top:637.2px;overflow:visible;" width="14" height="14" viewBox="0 0 14 14"><rect x="0.6" y="0.6" width="12" height="12" rx="2" fill="#FDFDFD" stroke="#9E9E9E" stroke-width="1.1"/><path d="M2.6 5.4 L5.6 10.6 L12.2 0.2" fill="none" stroke="#ADADAD" stroke-width="2.1"/></svg>
<svg class="a" style="left:720.2px;top:637.2px;overflow:visible;" width="14" height="14" viewBox="0 0 14 14"><rect x="0.6" y="0.6" width="12" height="12" rx="2" fill="#FDFDFD" stroke="#9E9E9E" stroke-width="1.1"/></svg>
<svg class="a" style="left:827.2px;top:637.2px;overflow:visible;" width="14" height="14" viewBox="0 0 14 14"><rect x="0.6" y="0.6" width="12" height="12" rx="2" fill="#FDFDFD" stroke="#9E9E9E" stroke-width="1.1"/></svg>
<div class="a" style="left:901px;top:332px;width:19px;height:320px;background:#FFFFFF;border:1px solid #D4D4D4;box-sizing:border-box;"></div>
<div class="a" style="left:902px;top:351px;width:17px;height:233.5px;background:#C9C9C9;"></div>
<div class="a" style="left:902px;top:333px;width:17px;height:18px;background:#FDFDFD;border-bottom:1px solid #DADADA;box-sizing:border-box;"></div>
<div class="a" style="left:902px;top:633px;width:17px;height:18px;background:#FDFDFD;border-top:1px solid #DADADA;box-sizing:border-box;"></div>
<svg class="a" style="left:905px;top:337px;" width="11" height="7" viewBox="0 0 11 7"><path d="M1.2 5.6 L5.5 1.4 L9.8 5.6" stroke="#989898" stroke-width="2" fill="none"/></svg>
<svg class="a" style="left:905px;top:639px;" width="11" height="7" viewBox="0 0 11 7"><path d="M1.2 1.4 L5.5 5.6 L9.8 1.4" stroke="#989898" stroke-width="2" fill="none"/></svg>
<div class="a" style="left:9px;top:1115px;width:1755px;height:36px;background:#FAFAFA;"></div>
<div class="a" style="left:14px;top:1120px;width:26px;height:26px;background:#F1F6FA;border:1px solid #B5B5B5;box-sizing:border-box;"></div>
<svg class="a" style="left:16px;top:1122px;" width="22" height="22" viewBox="0 0 22 22"><path d="M1.5 3.2 C1.5 0.8 15.5 0.8 15.5 3.2 L15.5 17.5 C15.5 20 1.5 20 1.5 17.5 Z" fill="#4E93BE"/><ellipse cx="8.5" cy="3" rx="7" ry="1.6" fill="#3F82AE"/><rect x="3.2" y="6" width="10.6" height="2.2" fill="#fff"/><rect x="3.2" y="10" width="10.6" height="2.2" fill="#fff"/><rect x="3.2" y="14" width="7" height="2.2" fill="#fff"/><circle cx="14.4" cy="14.2" r="6.8" fill="#7A9A1E"/><path d="M10.8 14.2 L13.4 16.8 L18 12" fill="none" stroke="#fff" stroke-width="2.2"/></svg>
<div class="a" style="left:46px;top:1118px;width:668px;height:30px;background:linear-gradient(#EFEFEF,#EFEFEF 72%,#DCEBF3);overflow:hidden;"><div class="t" style="left:8.00px;top:7.50px;font-size:12.5px;color:#3C3C3C;line-height:16px;letter-spacing:-0.055px;filter:blur(2.4px);">Workstation HDSI-CMPC-11 - USP\kgabka Intensiv Care Terminalserver EFTT\Benutzer: Andy Waldenaird  - 8.0.1.157</div></div>
<div class="a" style="left:717px;top:1119px;width:116px;height:28px;background:#FAFAFA;border:1px solid #C4C4C4;box-sizing:border-box;"></div>
<svg class="a" style="left:720px;top:1121px;" width="26" height="24" viewBox="0 0 26 24"><path d="M2.5 2 L14 2 L19 7 L19 21 L2.5 21 Z" fill="#fff" stroke="#7B9FC6" stroke-width="2" stroke-linejoin="round"/><path d="M13.5 2 L13.5 7.5 L19 7.5" fill="#7B9FC6"/><g stroke="#5F7FAA" stroke-width="1.1"><path d="M5 9 L11 9 M5 11.5 L15 11.5"/></g><g stroke="#A9BCD2" stroke-width="1.6"><path d="M5 14.5 L13 14.5 M5 17.5 L12 17.5"/></g><path d="M21.5 9.5 L24 12 L16.5 18.6 L13 19.8 L14.2 16.2 Z" fill="#5F7FAA"/></svg>
<div class="t" style="left:749.50px;top:1125.40px;font-size:12.3px;color:#000;line-height:16px;letter-spacing:-0.172px;">Eingabemodus</div>
<div class="a" style="left:1638px;top:1117px;width:125.5px;height:33px;background:#FAFAFA;border:1px solid #D6D6D6;border-radius:3px;box-sizing:border-box;"></div>
<div class="t" style="left:1641.50px;top:1125.40px;font-size:12.5px;color:#6E6E6E;line-height:16px;letter-spacing:-0.852px;">25.01.2017 18:39:20</div>
<svg class="a" style="left:1749.5px;top:1122px;" width="10" height="6" viewBox="0 0 10 6"><path d="M1 5 L5 1.2 L9 5" stroke="#A0A0A0" stroke-width="1.9" fill="none"/></svg>
<svg class="a" style="left:1749.5px;top:1137.5px;" width="10" height="6" viewBox="0 0 10 6"><path d="M1 1 L5 4.8 L9 1" stroke="#A0A0A0" stroke-width="1.9" fill="none"/></svg>
</body></html>
